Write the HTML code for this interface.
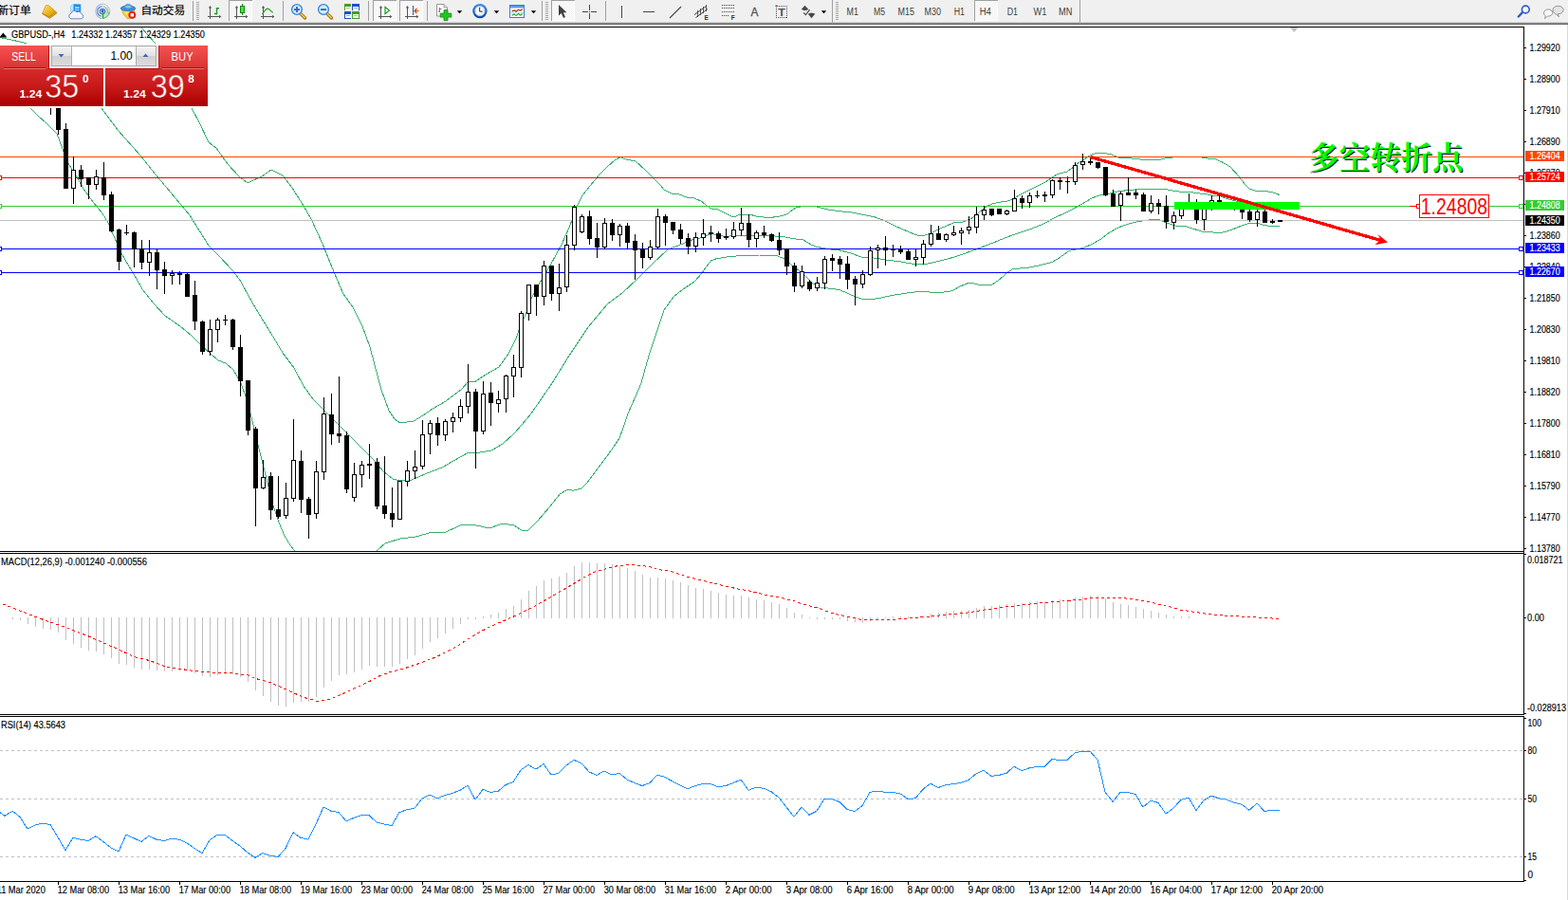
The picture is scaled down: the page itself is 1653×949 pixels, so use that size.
<!DOCTYPE html>
<html><head><meta charset="utf-8"><title>GBPUSD H4</title>
<style>html,body{margin:0;padding:0;background:#fff;overflow:hidden}svg{display:block}</style></head>
<body><svg width="1653" height="949" viewBox="0 0 1653 949" font-family="Liberation Sans, sans-serif">
<defs>
<linearGradient id="tb" x1="0" y1="0" x2="0" y2="1"><stop offset="0" stop-color="#e4e4e4"/><stop offset="0.45" stop-color="#a0a0a0"/><stop offset="1" stop-color="#6a6a6a"/></linearGradient>
<linearGradient id="btn" x1="0" y1="0" x2="0" y2="1"><stop offset="0" stop-color="#f55252"/><stop offset="1" stop-color="#d93333"/></linearGradient>
<linearGradient id="prc" x1="0" y1="0" x2="0" y2="1"><stop offset="0" stop-color="#d72c2c"/><stop offset="0.5" stop-color="#c61818"/><stop offset="1" stop-color="#aa0000"/></linearGradient>
<linearGradient id="prcu" gradientUnits="userSpaceOnUse" x1="0" y1="72" x2="0" y2="112"><stop offset="0" stop-color="#d72c2c"/><stop offset="0.5" stop-color="#c61818"/><stop offset="1" stop-color="#aa0000"/></linearGradient>
<linearGradient id="spn" x1="0" y1="0" x2="0" y2="1"><stop offset="0" stop-color="#f4f4f4"/><stop offset="0.5" stop-color="#e2e2e2"/><stop offset="0.5" stop-color="#d0d0d0"/><stop offset="1" stop-color="#dcdcdc"/></linearGradient>
<pattern id="chk" width="2" height="2" patternUnits="userSpaceOnUse"><rect width="2" height="2" fill="#ffffff"/><rect width="1" height="1" fill="#f0f0f0"/><rect x="1" y="1" width="1" height="1" fill="#f0f0f0"/></pattern>
</defs>
<rect width="1653" height="949" fill="#fff"/>
<clipPath id="mainclip"><rect x="0" y="29" width="1606" height="552"/></clipPath>
<g clip-path="url(#mainclip)" shape-rendering="crispEdges">
<polyline points="149.0,29.0 163.0,45.0 202.0,114.0 210.0,129.0 220.0,150.0 228.0,156.0 240.0,173.0 252.0,186.0 261.0,193.0 276.0,186.0 286.0,179.0 298.0,185.0 308.0,198.0 320.0,217.0 328.0,231.0 340.0,257.0 348.0,277.0 355.0,294.0 362.0,310.0 372.0,324.0 382.0,344.0 390.0,366.0 398.0,396.0 402.0,411.0 410.0,433.0 416.0,442.0 422.0,446.0 436.0,444.0 446.0,438.0 456.0,431.0 470.0,423.0 486.0,411.0 494.0,402.0 500.0,403.0 512.0,395.0 526.0,387.0 536.0,373.0 544.0,357.0 549.0,343.0 555.0,329.0 560.0,315.0 568.0,300.0 580.0,280.0 592.0,258.0 600.0,240.0 608.0,218.0 614.0,206.0 622.0,196.0 632.0,184.0 640.0,176.0 648.0,169.0 654.0,165.7 660.0,168.0 670.0,170.0 680.0,179.0 688.0,187.0 696.0,195.0 700.0,200.0 708.0,204.0 716.0,205.0 724.0,208.0 732.0,209.0 740.0,212.6 745.0,217.0 750.0,220.0 757.0,221.0 764.0,224.5 773.0,229.0 781.0,226.0 790.0,226.0 797.0,228.0 805.0,229.0 813.0,229.4 822.0,228.0 830.0,225.8 834.5,222.0 839.0,219.0 844.0,218.0 853.0,217.5 861.0,218.0 873.0,221.0 885.5,222.7 897.6,224.0 910.0,226.4 922.0,228.8 931.5,232.4 942.0,237.6 951.7,241.8 961.4,246.0 966.0,247.9 973.5,248.5 980.8,246.0 990.5,241.2 997.7,238.2 1005.0,235.0 1014.7,234.0 1022.0,231.5 1026.8,228.5 1031.7,224.2 1036.5,220.6 1041.4,217.0 1046.0,215.0 1053.5,213.3 1062.0,212.0 1066.8,210.3 1073.0,206.7 1080.0,203.0 1087.4,199.4 1094.7,195.8 1102.0,192.0 1109.0,187.3 1115.0,183.5 1124.7,181.0 1130.8,176.7 1136.8,171.8 1142.9,168.2 1149.0,164.0 1156.0,161.0 1161.0,161.0 1170.8,162.7 1180.5,166.4 1192.6,167.0 1202.0,168.0 1212.0,168.8 1221.7,168.4 1231.4,166.4 1241.0,165.5 1265.0,165.5 1272.6,167.0 1282.0,168.0 1289.5,171.5 1297.0,176.0 1305.8,185.8 1311.8,193.6 1316.7,199.0 1325.0,201.5 1336.0,201.8 1343.0,203.3 1349.0,205.6" fill="none" stroke="#38b06e" stroke-width="1" stroke-linejoin="round" />
<polyline points="-1.0,39.4 14.0,42.4 28.0,45.8 50.0,58.0 70.0,76.0 90.0,97.0 107.0,114.0 124.0,137.0 148.0,164.0 164.0,184.0 180.0,203.0 200.0,227.0 220.0,259.0 230.0,269.0 246.0,286.0 254.0,297.0 262.0,312.0 270.0,326.0 286.0,352.0 298.0,372.0 310.0,388.0 320.0,407.0 330.0,421.0 342.0,433.0 358.0,449.0 370.0,461.0 382.0,473.0 394.0,485.0 404.0,497.0 414.0,505.0 422.0,507.0 434.0,506.0 450.0,499.0 466.0,493.0 478.0,486.0 494.0,477.0 506.0,477.0 518.0,475.0 530.0,468.0 542.0,457.0 550.0,448.0 560.0,436.0 582.0,404.0 600.0,375.0 620.0,345.0 640.0,321.0 656.0,309.0 672.0,294.0 688.0,278.0 704.0,263.0 720.0,257.0 732.0,252.0 740.0,250.6 750.0,246.4 764.0,249.4 776.0,248.5 788.5,248.0 800.6,248.0 813.0,248.8 825.0,249.4 837.0,251.8 846.7,253.0 855.0,257.9 861.0,260.3 867.0,261.5 875.8,263.0 885.5,264.0 895.0,266.4 903.6,269.4 909.7,271.8 919.4,271.8 928.0,273.0 937.0,274.5 949.0,275.8 965.0,278.8 976.0,278.4 985.6,276.4 1002.6,272.0 1017.0,267.3 1031.7,261.8 1046.0,256.4 1058.0,251.5 1070.5,246.7 1086.0,241.8 1100.8,235.8 1111.7,229.7 1127.0,222.7 1139.0,216.0 1151.4,208.8 1158.6,206.0 1166.0,205.0 1175.6,202.4 1187.7,200.7 1199.8,199.7 1212.0,200.0 1219.0,199.0 1226.5,199.0 1236.0,201.0 1246.0,202.4 1255.6,202.7 1265.0,204.0 1272.6,205.0 1278.6,206.4 1287.0,207.0 1293.0,209.4 1301.7,211.8 1320.0,215.0 1349.0,219.0" fill="none" stroke="#38b06e" stroke-width="1" stroke-linejoin="round" />
<polyline points="32.0,114.0 40.0,122.0 49.0,130.0 60.0,141.0 66.0,157.0 73.0,174.0 80.0,185.0 88.0,199.0 98.0,213.0 108.0,225.0 114.0,235.0 120.0,249.0 128.0,267.0 136.0,281.0 144.0,294.0 150.0,305.0 162.0,320.0 174.0,333.0 190.0,344.0 202.0,354.0 212.0,364.0 222.0,373.0 230.0,380.0 238.0,383.0 246.0,390.0 254.0,404.0 259.0,418.0 264.0,436.0 272.0,469.0 280.0,501.0 288.0,533.0 294.0,551.0 300.0,565.0 306.0,575.0 310.0,580.0 320.0,600.0 390.0,600.0 398.0,580.0 406.0,573.0 422.0,568.0 438.0,566.0 456.0,561.0 470.0,561.0 486.0,553.6 502.0,554.0 516.0,557.0 530.0,552.0 542.0,554.0 550.0,559.2 557.0,559.2 566.0,550.2 578.0,536.2 590.0,521.2 598.0,516.2 604.0,517.2 613.0,515.2 618.0,510.1 630.0,494.1 642.0,478.1 653.0,462.1 658.0,448.1 662.0,436.1 670.0,418.0 676.0,404.0 684.0,375.0 692.0,351.0 700.0,327.0 710.0,313.0 720.0,305.0 732.0,297.0 740.0,288.0 743.6,282.7 749.7,274.8 754.5,273.0 764.0,271.2 776.0,270.0 788.5,269.4 800.6,269.0 813.0,269.0 820.0,270.0 827.0,273.0 832.0,277.3 837.0,281.5 842.0,285.0 846.7,288.8 851.5,293.6 856.4,298.5 861.0,301.5 866.0,303.3 873.0,304.0 880.6,305.0 885.5,305.8 892.7,308.8 897.6,311.2 903.6,313.6 909.7,315.5 919.4,315.7 929.0,314.0 940.0,311.5 956.0,309.0 972.0,307.0 988.0,309.0 1004.0,306.8 1012.0,302.0 1022.0,298.0 1036.0,301.0 1046.0,300.0 1054.0,294.5 1062.0,287.3 1068.0,283.6 1082.6,282.4 1094.7,280.0 1109.0,276.4 1116.5,272.0 1127.0,264.5 1141.7,261.5 1151.4,257.3 1161.0,251.8 1168.0,246.4 1178.0,240.3 1187.7,236.7 1199.8,233.6 1212.0,231.8 1221.7,231.5 1226.5,233.6 1231.4,235.5 1241.0,238.5 1250.8,239.0 1260.5,242.0 1267.7,244.3 1275.0,244.5 1284.7,245.8 1292.0,244.5 1299.0,242.0 1306.5,239.0 1316.7,235.5 1326.4,235.5 1332.4,237.3 1338.5,238.5 1349.0,238.5" fill="none" stroke="#38b06e" stroke-width="1" stroke-linejoin="round" />
</g>
<g shape-rendering="crispEdges">
<rect x="0" y="165" width="1606" height="1" fill="#ff4500"/>
<rect x="0" y="187" width="1606" height="1" fill="#ff0000"/>
<rect x="0" y="217" width="1606" height="1" fill="#32cd32"/>
<rect x="0" y="232" width="1606" height="1" fill="#c0c0c0"/>
<rect x="0" y="262" width="1606" height="1" fill="#0000ff"/>
<rect x="0" y="287" width="1606" height="1" fill="#0000ff"/>
<rect x="-2.5" y="185.5" width="4" height="4" fill="#fff" stroke="#ff0000" stroke-width="1"/>
<rect x="1601.5" y="185.5" width="4" height="4" fill="#fff" stroke="#ff0000" stroke-width="1"/>
<rect x="-2.5" y="215.5" width="4" height="4" fill="#fff" stroke="#32cd32" stroke-width="1"/>
<rect x="1601.5" y="215.5" width="4" height="4" fill="#fff" stroke="#32cd32" stroke-width="1"/>
<rect x="-2.5" y="260.5" width="4" height="4" fill="#fff" stroke="#0000ff" stroke-width="1"/>
<rect x="1601.5" y="260.5" width="4" height="4" fill="#fff" stroke="#0000ff" stroke-width="1"/>
<rect x="-2.5" y="285.5" width="4" height="4" fill="#fff" stroke="#0000ff" stroke-width="1"/>
<rect x="1601.5" y="285.5" width="4" height="4" fill="#fff" stroke="#0000ff" stroke-width="1"/>
<rect x="53" y="100" width="1" height="21" fill="#000"/>
<rect x="61" y="90" width="1" height="52" fill="#000"/>
<rect x="59" y="95" width="5" height="42" fill="#000"/>
<rect x="69" y="130" width="1" height="69" fill="#000"/>
<rect x="67" y="136" width="5" height="63" fill="#000"/>
<rect x="77" y="165" width="1" height="50" fill="#000"/>
<rect x="75.5" y="179.5" width="4" height="19" fill="#fff" stroke="#000" stroke-width="1"/>
<rect x="85" y="174" width="1" height="23" fill="#000"/>
<rect x="83" y="179" width="5" height="10" fill="#000"/>
<rect x="93" y="187" width="1" height="23" fill="#000"/>
<rect x="91" y="187" width="5" height="8" fill="#000"/>
<rect x="101" y="179" width="1" height="21" fill="#000"/>
<rect x="99.5" y="186.5" width="4" height="8" fill="#fff" stroke="#000" stroke-width="1"/>
<rect x="109" y="171" width="1" height="40" fill="#000"/>
<rect x="107" y="187" width="5" height="19" fill="#000"/>
<rect x="117" y="202" width="1" height="43" fill="#000"/>
<rect x="115" y="205" width="5" height="39" fill="#000"/>
<rect x="125" y="241" width="1" height="44" fill="#000"/>
<rect x="123" y="242" width="5" height="34" fill="#000"/>
<rect x="133" y="237" width="1" height="11" fill="#000"/>
<rect x="131" y="245" width="5" height="1" fill="#000"/>
<rect x="141" y="244" width="1" height="38" fill="#000"/>
<rect x="139" y="245" width="5" height="18" fill="#000"/>
<rect x="149" y="253" width="1" height="31" fill="#000"/>
<rect x="147" y="262" width="5" height="15" fill="#000"/>
<rect x="157" y="253" width="1" height="38" fill="#000"/>
<rect x="155.5" y="266.5" width="4" height="10" fill="#fff" stroke="#000" stroke-width="1"/>
<rect x="165" y="263" width="1" height="42" fill="#000"/>
<rect x="163" y="266" width="5" height="19" fill="#000"/>
<rect x="173" y="276" width="1" height="34" fill="#000"/>
<rect x="171" y="284" width="5" height="7" fill="#000"/>
<rect x="181" y="285" width="1" height="15" fill="#000"/>
<rect x="179.5" y="288.5" width="4" height="2" fill="#fff" stroke="#000" stroke-width="1"/>
<rect x="189" y="286" width="1" height="14" fill="#000"/>
<rect x="187" y="288" width="5" height="2" fill="#000"/>
<rect x="197" y="288" width="1" height="25" fill="#000"/>
<rect x="195" y="289" width="5" height="24" fill="#000"/>
<rect x="205" y="296" width="1" height="52" fill="#000"/>
<rect x="203" y="311" width="5" height="28" fill="#000"/>
<rect x="213" y="338" width="1" height="36" fill="#000"/>
<rect x="211" y="339" width="5" height="32" fill="#000"/>
<rect x="221" y="337" width="1" height="38" fill="#000"/>
<rect x="219.5" y="347.5" width="4" height="23" fill="#fff" stroke="#000" stroke-width="1"/>
<rect x="229" y="335" width="1" height="26" fill="#000"/>
<rect x="227.5" y="337.5" width="4" height="10" fill="#fff" stroke="#000" stroke-width="1"/>
<rect x="237" y="332" width="1" height="11" fill="#000"/>
<rect x="235" y="337" width="5" height="1" fill="#000"/>
<rect x="245" y="336" width="1" height="33" fill="#000"/>
<rect x="243" y="337" width="5" height="29" fill="#000"/>
<rect x="253" y="353" width="1" height="65" fill="#000"/>
<rect x="251" y="366" width="5" height="36" fill="#000"/>
<rect x="261" y="401" width="1" height="58" fill="#000"/>
<rect x="259" y="401" width="5" height="53" fill="#000"/>
<rect x="269" y="450" width="1" height="105" fill="#000"/>
<rect x="267" y="452" width="5" height="63" fill="#000"/>
<rect x="277" y="485" width="1" height="31" fill="#000"/>
<rect x="275.5" y="503.5" width="4" height="11" fill="#fff" stroke="#000" stroke-width="1"/>
<rect x="285" y="498" width="1" height="50" fill="#000"/>
<rect x="283" y="502" width="5" height="36" fill="#000"/>
<rect x="293" y="502" width="1" height="45" fill="#000"/>
<rect x="291" y="537" width="5" height="8" fill="#000"/>
<rect x="301" y="509" width="1" height="38" fill="#000"/>
<rect x="299.5" y="525.5" width="4" height="18" fill="#fff" stroke="#000" stroke-width="1"/>
<rect x="309" y="442" width="1" height="87" fill="#000"/>
<rect x="307.5" y="485.5" width="4" height="40" fill="#fff" stroke="#000" stroke-width="1"/>
<rect x="317" y="475" width="1" height="66" fill="#000"/>
<rect x="315" y="486" width="5" height="41" fill="#000"/>
<rect x="325" y="524" width="1" height="44" fill="#000"/>
<rect x="323" y="526" width="5" height="17" fill="#000"/>
<rect x="333" y="486" width="1" height="61" fill="#000"/>
<rect x="331.5" y="497.5" width="4" height="44" fill="#fff" stroke="#000" stroke-width="1"/>
<rect x="341" y="419" width="1" height="87" fill="#000"/>
<rect x="339.5" y="436.5" width="4" height="61" fill="#fff" stroke="#000" stroke-width="1"/>
<rect x="349" y="415" width="1" height="54" fill="#000"/>
<rect x="347" y="437" width="5" height="21" fill="#000"/>
<rect x="357" y="397" width="1" height="70" fill="#000"/>
<rect x="355" y="457" width="5" height="3" fill="#000"/>
<rect x="365" y="455" width="1" height="65" fill="#000"/>
<rect x="363" y="459" width="5" height="57" fill="#000"/>
<rect x="373" y="488" width="1" height="41" fill="#000"/>
<rect x="371.5" y="500.5" width="4" height="24" fill="#fff" stroke="#000" stroke-width="1"/>
<rect x="381" y="486" width="1" height="28" fill="#000"/>
<rect x="379.5" y="490.5" width="4" height="10" fill="#fff" stroke="#000" stroke-width="1"/>
<rect x="389" y="468" width="1" height="37" fill="#000"/>
<rect x="387" y="489" width="5" height="2" fill="#000"/>
<rect x="397" y="483" width="1" height="54" fill="#000"/>
<rect x="395" y="487" width="5" height="47" fill="#000"/>
<rect x="405" y="481" width="1" height="66" fill="#000"/>
<rect x="403" y="533" width="5" height="9" fill="#000"/>
<rect x="413" y="514" width="1" height="42" fill="#000"/>
<rect x="411" y="541" width="5" height="7" fill="#000"/>
<rect x="421" y="507" width="1" height="41" fill="#000"/>
<rect x="419.5" y="507.5" width="4" height="40" fill="#fff" stroke="#000" stroke-width="1"/>
<rect x="429" y="486" width="1" height="27" fill="#000"/>
<rect x="427.5" y="496.5" width="4" height="11" fill="#fff" stroke="#000" stroke-width="1"/>
<rect x="437" y="475" width="1" height="30" fill="#000"/>
<rect x="435.5" y="492.5" width="4" height="4" fill="#fff" stroke="#000" stroke-width="1"/>
<rect x="445" y="443" width="1" height="52" fill="#000"/>
<rect x="443.5" y="458.5" width="4" height="33" fill="#fff" stroke="#000" stroke-width="1"/>
<rect x="453" y="443" width="1" height="36" fill="#000"/>
<rect x="451.5" y="446.5" width="4" height="11" fill="#fff" stroke="#000" stroke-width="1"/>
<rect x="461" y="440" width="1" height="30" fill="#000"/>
<rect x="459" y="446" width="5" height="13" fill="#000"/>
<rect x="469" y="442" width="1" height="23" fill="#000"/>
<rect x="467.5" y="444.5" width="4" height="14" fill="#fff" stroke="#000" stroke-width="1"/>
<rect x="477" y="435" width="1" height="21" fill="#000"/>
<rect x="475.5" y="440.5" width="4" height="4" fill="#fff" stroke="#000" stroke-width="1"/>
<rect x="485" y="421" width="1" height="24" fill="#000"/>
<rect x="483.5" y="428.5" width="4" height="12" fill="#fff" stroke="#000" stroke-width="1"/>
<rect x="493" y="384" width="1" height="52" fill="#000"/>
<rect x="491.5" y="413.5" width="4" height="15" fill="#fff" stroke="#000" stroke-width="1"/>
<rect x="501" y="410" width="1" height="84" fill="#000"/>
<rect x="499" y="413" width="5" height="42" fill="#000"/>
<rect x="509" y="402" width="1" height="56" fill="#000"/>
<rect x="507.5" y="415.5" width="4" height="39" fill="#fff" stroke="#000" stroke-width="1"/>
<rect x="517" y="403" width="1" height="46" fill="#000"/>
<rect x="515" y="414" width="5" height="11" fill="#000"/>
<rect x="525" y="412" width="1" height="23" fill="#000"/>
<rect x="523.5" y="421.5" width="4" height="4" fill="#fff" stroke="#000" stroke-width="1"/>
<rect x="533" y="395" width="1" height="40" fill="#000"/>
<rect x="531.5" y="396.5" width="4" height="24" fill="#fff" stroke="#000" stroke-width="1"/>
<rect x="541" y="374" width="1" height="45" fill="#000"/>
<rect x="539.5" y="387.5" width="4" height="9" fill="#fff" stroke="#000" stroke-width="1"/>
<rect x="549" y="328" width="1" height="70" fill="#000"/>
<rect x="547.5" y="330.5" width="4" height="57" fill="#fff" stroke="#000" stroke-width="1"/>
<rect x="557" y="300" width="1" height="38" fill="#000"/>
<rect x="555.5" y="300.5" width="4" height="30" fill="#fff" stroke="#000" stroke-width="1"/>
<rect x="565" y="300" width="1" height="33" fill="#000"/>
<rect x="563" y="300" width="5" height="13" fill="#000"/>
<rect x="573" y="275" width="1" height="47" fill="#000"/>
<rect x="571.5" y="280.5" width="4" height="32" fill="#fff" stroke="#000" stroke-width="1"/>
<rect x="581" y="280" width="1" height="37" fill="#000"/>
<rect x="579" y="280" width="5" height="30" fill="#000"/>
<rect x="589" y="278" width="1" height="50" fill="#000"/>
<rect x="587.5" y="303.5" width="4" height="6" fill="#fff" stroke="#000" stroke-width="1"/>
<rect x="597" y="248" width="1" height="60" fill="#000"/>
<rect x="595.5" y="258.5" width="4" height="44" fill="#fff" stroke="#000" stroke-width="1"/>
<rect x="605" y="216" width="1" height="48" fill="#000"/>
<rect x="603.5" y="218.5" width="4" height="40" fill="#fff" stroke="#000" stroke-width="1"/>
<rect x="613" y="226" width="1" height="20" fill="#000"/>
<rect x="611.5" y="228.5" width="4" height="16" fill="#fff" stroke="#000" stroke-width="1"/>
<rect x="621" y="222" width="1" height="36" fill="#000"/>
<rect x="619" y="228" width="5" height="24" fill="#000"/>
<rect x="629" y="235" width="1" height="37" fill="#000"/>
<rect x="627" y="251" width="5" height="10" fill="#000"/>
<rect x="637" y="230" width="1" height="33" fill="#000"/>
<rect x="635.5" y="235.5" width="4" height="25" fill="#fff" stroke="#000" stroke-width="1"/>
<rect x="645" y="231" width="1" height="23" fill="#000"/>
<rect x="643" y="235" width="5" height="13" fill="#000"/>
<rect x="653" y="236" width="1" height="24" fill="#000"/>
<rect x="651.5" y="238.5" width="4" height="9" fill="#fff" stroke="#000" stroke-width="1"/>
<rect x="661" y="235" width="1" height="28" fill="#000"/>
<rect x="659" y="238" width="5" height="18" fill="#000"/>
<rect x="669" y="247" width="1" height="48" fill="#000"/>
<rect x="667" y="254" width="5" height="10" fill="#000"/>
<rect x="677" y="256" width="1" height="27" fill="#000"/>
<rect x="675" y="263" width="5" height="9" fill="#000"/>
<rect x="685" y="253" width="1" height="21" fill="#000"/>
<rect x="683.5" y="260.5" width="4" height="11" fill="#fff" stroke="#000" stroke-width="1"/>
<rect x="693" y="220" width="1" height="43" fill="#000"/>
<rect x="691.5" y="228.5" width="4" height="32" fill="#fff" stroke="#000" stroke-width="1"/>
<rect x="701" y="226" width="1" height="33" fill="#000"/>
<rect x="699" y="228" width="5" height="7" fill="#000"/>
<rect x="709" y="234" width="1" height="13" fill="#000"/>
<rect x="707" y="234" width="5" height="9" fill="#000"/>
<rect x="717" y="236" width="1" height="21" fill="#000"/>
<rect x="715" y="242" width="5" height="10" fill="#000"/>
<rect x="725" y="246" width="1" height="22" fill="#000"/>
<rect x="723" y="251" width="5" height="9" fill="#000"/>
<rect x="733" y="245" width="1" height="21" fill="#000"/>
<rect x="731.5" y="250.5" width="4" height="9" fill="#fff" stroke="#000" stroke-width="1"/>
<rect x="741" y="231" width="1" height="28" fill="#000"/>
<rect x="739.5" y="246.5" width="4" height="4" fill="#fff" stroke="#000" stroke-width="1"/>
<rect x="749" y="238" width="1" height="17" fill="#000"/>
<rect x="747" y="245" width="5" height="2" fill="#000"/>
<rect x="757" y="244" width="1" height="12" fill="#000"/>
<rect x="755" y="246" width="5" height="6" fill="#000"/>
<rect x="765" y="241" width="1" height="12" fill="#000"/>
<rect x="763" y="249" width="5" height="2" fill="#000"/>
<rect x="773" y="234" width="1" height="18" fill="#000"/>
<rect x="771.5" y="242.5" width="4" height="7" fill="#fff" stroke="#000" stroke-width="1"/>
<rect x="781" y="219" width="1" height="30" fill="#000"/>
<rect x="779.5" y="235.5" width="4" height="7" fill="#fff" stroke="#000" stroke-width="1"/>
<rect x="789" y="226" width="1" height="35" fill="#000"/>
<rect x="787" y="235" width="5" height="18" fill="#000"/>
<rect x="797" y="243" width="1" height="18" fill="#000"/>
<rect x="795.5" y="245.5" width="4" height="6" fill="#fff" stroke="#000" stroke-width="1"/>
<rect x="805" y="238" width="1" height="13" fill="#000"/>
<rect x="803" y="245" width="5" height="3" fill="#000"/>
<rect x="813" y="246" width="1" height="9" fill="#000"/>
<rect x="811" y="247" width="5" height="7" fill="#000"/>
<rect x="821" y="245" width="1" height="24" fill="#000"/>
<rect x="819" y="253" width="5" height="11" fill="#000"/>
<rect x="829" y="262" width="1" height="28" fill="#000"/>
<rect x="827" y="262" width="5" height="19" fill="#000"/>
<rect x="837" y="277" width="1" height="31" fill="#000"/>
<rect x="835" y="280" width="5" height="22" fill="#000"/>
<rect x="845" y="280" width="1" height="24" fill="#000"/>
<rect x="843.5" y="286.5" width="4" height="15" fill="#fff" stroke="#000" stroke-width="1"/>
<rect x="853" y="295" width="1" height="12" fill="#000"/>
<rect x="851" y="297" width="5" height="8" fill="#000"/>
<rect x="861" y="292" width="1" height="15" fill="#000"/>
<rect x="859.5" y="298.5" width="4" height="5" fill="#fff" stroke="#000" stroke-width="1"/>
<rect x="869" y="270" width="1" height="35" fill="#000"/>
<rect x="867.5" y="273.5" width="4" height="25" fill="#fff" stroke="#000" stroke-width="1"/>
<rect x="877" y="268" width="1" height="18" fill="#000"/>
<rect x="875" y="272" width="5" height="3" fill="#000"/>
<rect x="885" y="270" width="1" height="24" fill="#000"/>
<rect x="883" y="273" width="5" height="6" fill="#000"/>
<rect x="893" y="270" width="1" height="35" fill="#000"/>
<rect x="891" y="278" width="5" height="17" fill="#000"/>
<rect x="901" y="291" width="1" height="31" fill="#000"/>
<rect x="899" y="294" width="5" height="6" fill="#000"/>
<rect x="909" y="285" width="1" height="19" fill="#000"/>
<rect x="907.5" y="289.5" width="4" height="10" fill="#fff" stroke="#000" stroke-width="1"/>
<rect x="917" y="260" width="1" height="31" fill="#000"/>
<rect x="915.5" y="264.5" width="4" height="25" fill="#fff" stroke="#000" stroke-width="1"/>
<rect x="925" y="258" width="1" height="25" fill="#000"/>
<rect x="923.5" y="261.5" width="4" height="2" fill="#fff" stroke="#000" stroke-width="1"/>
<rect x="933" y="249" width="1" height="31" fill="#000"/>
<rect x="931" y="261" width="5" height="3" fill="#000"/>
<rect x="941" y="258" width="1" height="13" fill="#000"/>
<rect x="939" y="263" width="5" height="1" fill="#000"/>
<rect x="949" y="259" width="1" height="9" fill="#000"/>
<rect x="947" y="263" width="5" height="3" fill="#000"/>
<rect x="957" y="263" width="1" height="11" fill="#000"/>
<rect x="955" y="265" width="5" height="9" fill="#000"/>
<rect x="965" y="263" width="1" height="18" fill="#000"/>
<rect x="963.5" y="271.5" width="4" height="2" fill="#fff" stroke="#000" stroke-width="1"/>
<rect x="973" y="253" width="1" height="26" fill="#000"/>
<rect x="971.5" y="257.5" width="4" height="14" fill="#fff" stroke="#000" stroke-width="1"/>
<rect x="981" y="237" width="1" height="23" fill="#000"/>
<rect x="979.5" y="246.5" width="4" height="11" fill="#fff" stroke="#000" stroke-width="1"/>
<rect x="989" y="238" width="1" height="15" fill="#000"/>
<rect x="987" y="246" width="5" height="7" fill="#000"/>
<rect x="997" y="246" width="1" height="9" fill="#000"/>
<rect x="995.5" y="247.5" width="4" height="5" fill="#fff" stroke="#000" stroke-width="1"/>
<rect x="1005" y="238" width="1" height="11" fill="#000"/>
<rect x="1003.5" y="245.5" width="4" height="2" fill="#fff" stroke="#000" stroke-width="1"/>
<rect x="1013" y="240" width="1" height="18" fill="#000"/>
<rect x="1011.5" y="243.5" width="4" height="2" fill="#fff" stroke="#000" stroke-width="1"/>
<rect x="1021" y="228" width="1" height="19" fill="#000"/>
<rect x="1019.5" y="239.5" width="4" height="3" fill="#fff" stroke="#000" stroke-width="1"/>
<rect x="1029" y="218" width="1" height="28" fill="#000"/>
<rect x="1027.5" y="226.5" width="4" height="13" fill="#fff" stroke="#000" stroke-width="1"/>
<rect x="1037" y="217" width="1" height="15" fill="#000"/>
<rect x="1035.5" y="221.5" width="4" height="5" fill="#fff" stroke="#000" stroke-width="1"/>
<rect x="1045" y="220" width="1" height="8" fill="#000"/>
<rect x="1043" y="220" width="5" height="7" fill="#000"/>
<rect x="1053" y="220" width="1" height="6" fill="#000"/>
<rect x="1051" y="220" width="5" height="6" fill="#000"/>
<rect x="1061" y="221" width="1" height="6" fill="#000"/>
<rect x="1059.5" y="222.5" width="4" height="3" fill="#fff" stroke="#000" stroke-width="1"/>
<rect x="1069" y="200" width="1" height="23" fill="#000"/>
<rect x="1067.5" y="209.5" width="4" height="13" fill="#fff" stroke="#000" stroke-width="1"/>
<rect x="1077" y="206" width="1" height="14" fill="#000"/>
<rect x="1075" y="209" width="5" height="5" fill="#000"/>
<rect x="1085" y="203" width="1" height="16" fill="#000"/>
<rect x="1083.5" y="206.5" width="4" height="7" fill="#fff" stroke="#000" stroke-width="1"/>
<rect x="1093" y="201" width="1" height="8" fill="#000"/>
<rect x="1091" y="206" width="5" height="1" fill="#000"/>
<rect x="1101" y="202" width="1" height="11" fill="#000"/>
<rect x="1099" y="205" width="5" height="2" fill="#000"/>
<rect x="1109" y="189" width="1" height="20" fill="#000"/>
<rect x="1107.5" y="190.5" width="4" height="15" fill="#fff" stroke="#000" stroke-width="1"/>
<rect x="1117" y="187" width="1" height="13" fill="#000"/>
<rect x="1115" y="190" width="5" height="2" fill="#000"/>
<rect x="1125" y="186" width="1" height="18" fill="#000"/>
<rect x="1123" y="191" width="5" height="1" fill="#000"/>
<rect x="1133" y="171" width="1" height="24" fill="#000"/>
<rect x="1131.5" y="174.5" width="4" height="17" fill="#fff" stroke="#000" stroke-width="1"/>
<rect x="1141" y="162" width="1" height="17" fill="#000"/>
<rect x="1139.5" y="170.5" width="4" height="3" fill="#fff" stroke="#000" stroke-width="1"/>
<rect x="1149" y="166" width="1" height="8" fill="#000"/>
<rect x="1147" y="170" width="5" height="2" fill="#000"/>
<rect x="1157" y="171" width="1" height="7" fill="#000"/>
<rect x="1155" y="171" width="5" height="6" fill="#000"/>
<rect x="1165" y="176" width="1" height="31" fill="#000"/>
<rect x="1163" y="176" width="5" height="30" fill="#000"/>
<rect x="1173" y="200" width="1" height="18" fill="#000"/>
<rect x="1171" y="204" width="5" height="14" fill="#000"/>
<rect x="1181" y="202" width="1" height="31" fill="#000"/>
<rect x="1179.5" y="204.5" width="4" height="12" fill="#fff" stroke="#000" stroke-width="1"/>
<rect x="1189" y="187" width="1" height="19" fill="#000"/>
<rect x="1187" y="203" width="5" height="3" fill="#000"/>
<rect x="1197" y="200" width="1" height="10" fill="#000"/>
<rect x="1195" y="203" width="5" height="3" fill="#000"/>
<rect x="1205" y="203" width="1" height="20" fill="#000"/>
<rect x="1203" y="205" width="5" height="18" fill="#000"/>
<rect x="1213" y="206" width="1" height="19" fill="#000"/>
<rect x="1211.5" y="214.5" width="4" height="8" fill="#fff" stroke="#000" stroke-width="1"/>
<rect x="1221" y="210" width="1" height="16" fill="#000"/>
<rect x="1219" y="214" width="5" height="4" fill="#000"/>
<rect x="1229" y="206" width="1" height="35" fill="#000"/>
<rect x="1227" y="217" width="5" height="17" fill="#000"/>
<rect x="1237" y="223" width="1" height="19" fill="#000"/>
<rect x="1235.5" y="227.5" width="4" height="7" fill="#fff" stroke="#000" stroke-width="1"/>
<rect x="1245" y="214" width="1" height="17" fill="#000"/>
<rect x="1243.5" y="216.5" width="4" height="11" fill="#fff" stroke="#000" stroke-width="1"/>
<rect x="1253" y="204" width="1" height="15" fill="#000"/>
<rect x="1251" y="214" width="5" height="3" fill="#000"/>
<rect x="1261" y="210" width="1" height="26" fill="#000"/>
<rect x="1259" y="216" width="5" height="16" fill="#000"/>
<rect x="1269" y="215" width="1" height="28" fill="#000"/>
<rect x="1267.5" y="216.5" width="4" height="15" fill="#fff" stroke="#000" stroke-width="1"/>
<rect x="1277" y="206" width="1" height="16" fill="#000"/>
<rect x="1275.5" y="211.5" width="4" height="5" fill="#fff" stroke="#000" stroke-width="1"/>
<rect x="1285" y="206" width="1" height="12" fill="#000"/>
<rect x="1283" y="211" width="5" height="6" fill="#000"/>
<rect x="1293" y="214" width="1" height="6" fill="#000"/>
<rect x="1291" y="215" width="5" height="3" fill="#000"/>
<rect x="1301" y="214" width="1" height="8" fill="#000"/>
<rect x="1299" y="216" width="5" height="3" fill="#000"/>
<rect x="1309" y="214" width="1" height="17" fill="#000"/>
<rect x="1307" y="217" width="5" height="7" fill="#000"/>
<rect x="1317" y="215" width="1" height="19" fill="#000"/>
<rect x="1315" y="223" width="5" height="9" fill="#000"/>
<rect x="1325" y="215" width="1" height="24" fill="#000"/>
<rect x="1323.5" y="223.5" width="4" height="8" fill="#fff" stroke="#000" stroke-width="1"/>
<rect x="1333" y="215" width="1" height="20" fill="#000"/>
<rect x="1331" y="223" width="5" height="12" fill="#000"/>
<rect x="1341" y="231" width="1" height="5" fill="#000"/>
<rect x="1339" y="233" width="5" height="2" fill="#000"/>
<rect x="1349" y="232" width="1" height="2" fill="#000"/>
<rect x="1347" y="232" width="5" height="2" fill="#000"/>
</g>
<rect x="1238" y="213" width="132" height="8" fill="#00ff00" shape-rendering="crispEdges"/>
<line x1="1149.5" y1="165.5" x2="1456" y2="253.6" stroke="#ff0000" stroke-width="3.3" shape-rendering="crispEdges"/>
<polygon points="1463,255.5 1452.5,247 1455.5,252.6 1449.5,258.2" fill="#ff0000"/>
<text x="1380.2" y="179.1" font-size="32.7" font-weight="bold" fill="#101030" textLength="163.4" lengthAdjust="spacingAndGlyphs" style="font-family:'Liberation Serif','Noto Serif CJK SC',serif">多空转折点</text>
<text x="1379.2" y="178.1" font-size="32.7" font-weight="bold" fill="#00ff00" textLength="163.4" lengthAdjust="spacingAndGlyphs" style="font-family:'Liberation Serif','Noto Serif CJK SC',serif">多空转折点</text>
<g shape-rendering="crispEdges">
<rect x="1486" y="217" width="8" height="1" fill="#ff0000"/>
<rect x="1493.5" y="215.5" width="3" height="4" fill="#fff" stroke="#ff0000"/>
<rect x="1496.5" y="205.5" width="73" height="24" fill="#fff" stroke="#ff0000"/>
</g>
<text x="1497.8" y="225.9" font-size="23" fill="#ff0000" textLength="70.3" lengthAdjust="spacingAndGlyphs" >1.24808</text>
<polygon points="1360,29 1368.6,29 1364.3,34" fill="#c0c0c0"/>
<g shape-rendering="crispEdges">
<rect x="0" y="28" width="1607" height="1" fill="#000"/>
<rect x="1606" y="28" width="1" height="726" fill="#000"/>
<rect x="1606" y="755" width="1" height="175" fill="#000"/>
<rect x="0" y="581" width="1607" height="1" fill="#000"/>
<rect x="0" y="583" width="1607" height="1" fill="#000"/>
<rect x="0" y="753" width="1607" height="1" fill="#000"/>
<rect x="0" y="755" width="1607" height="1" fill="#000"/>
<rect x="0" y="929" width="1607" height="1" fill="#000"/>
<rect x="1652" y="26" width="1" height="923" fill="#d9d9d9"/>
<rect x="1607" y="50" width="2" height="1" fill="#000"/>
<rect x="1607" y="83" width="2" height="1" fill="#000"/>
<rect x="1607" y="116" width="2" height="1" fill="#000"/>
<rect x="1607" y="149" width="2" height="1" fill="#000"/>
<rect x="1607" y="182" width="2" height="1" fill="#000"/>
<rect x="1607" y="215" width="2" height="1" fill="#000"/>
<rect x="1607" y="248" width="2" height="1" fill="#000"/>
<rect x="1607" y="281" width="2" height="1" fill="#000"/>
<rect x="1607" y="314" width="2" height="1" fill="#000"/>
<rect x="1607" y="347" width="2" height="1" fill="#000"/>
<rect x="1607" y="380" width="2" height="1" fill="#000"/>
<rect x="1607" y="413" width="2" height="1" fill="#000"/>
<rect x="1607" y="446" width="2" height="1" fill="#000"/>
<rect x="1607" y="479" width="2" height="1" fill="#000"/>
<rect x="1607" y="512" width="2" height="1" fill="#000"/>
<rect x="1607" y="545" width="2" height="1" fill="#000"/>
<rect x="1607" y="578" width="2" height="1" fill="#000"/>
</g>
<text x="1612.6" y="54" font-size="10" fill="#000" stroke="#000" stroke-width="0.15" textLength="32" lengthAdjust="spacingAndGlyphs" >1.29920</text>
<text x="1612.6" y="87" font-size="10" fill="#000" stroke="#000" stroke-width="0.15" textLength="32" lengthAdjust="spacingAndGlyphs" >1.28900</text>
<text x="1612.6" y="120" font-size="10" fill="#000" stroke="#000" stroke-width="0.15" textLength="32" lengthAdjust="spacingAndGlyphs" >1.27910</text>
<text x="1612.6" y="153" font-size="10" fill="#000" stroke="#000" stroke-width="0.15" textLength="32" lengthAdjust="spacingAndGlyphs" >1.26890</text>
<text x="1612.6" y="186" font-size="10" fill="#000" stroke="#000" stroke-width="0.15" textLength="32" lengthAdjust="spacingAndGlyphs" >1.25870</text>
<text x="1612.6" y="219" font-size="10" fill="#000" stroke="#000" stroke-width="0.15" textLength="32" lengthAdjust="spacingAndGlyphs" >1.24880</text>
<text x="1612.6" y="252" font-size="10" fill="#000" stroke="#000" stroke-width="0.15" textLength="32" lengthAdjust="spacingAndGlyphs" >1.23860</text>
<text x="1612.6" y="285" font-size="10" fill="#000" stroke="#000" stroke-width="0.15" textLength="32" lengthAdjust="spacingAndGlyphs" >1.22840</text>
<text x="1612.6" y="318" font-size="10" fill="#000" stroke="#000" stroke-width="0.15" textLength="32" lengthAdjust="spacingAndGlyphs" >1.21850</text>
<text x="1612.6" y="351" font-size="10" fill="#000" stroke="#000" stroke-width="0.15" textLength="32" lengthAdjust="spacingAndGlyphs" >1.20830</text>
<text x="1612.6" y="384" font-size="10" fill="#000" stroke="#000" stroke-width="0.15" textLength="32" lengthAdjust="spacingAndGlyphs" >1.19810</text>
<text x="1612.6" y="417" font-size="10" fill="#000" stroke="#000" stroke-width="0.15" textLength="32" lengthAdjust="spacingAndGlyphs" >1.18820</text>
<text x="1612.6" y="450" font-size="10" fill="#000" stroke="#000" stroke-width="0.15" textLength="32" lengthAdjust="spacingAndGlyphs" >1.17800</text>
<text x="1612.6" y="483" font-size="10" fill="#000" stroke="#000" stroke-width="0.15" textLength="32" lengthAdjust="spacingAndGlyphs" >1.16810</text>
<text x="1612.6" y="516" font-size="10" fill="#000" stroke="#000" stroke-width="0.15" textLength="32" lengthAdjust="spacingAndGlyphs" >1.15790</text>
<text x="1612.6" y="549" font-size="10" fill="#000" stroke="#000" stroke-width="0.15" textLength="32" lengthAdjust="spacingAndGlyphs" >1.14770</text>
<text x="1612.6" y="582" font-size="10" fill="#000" stroke="#000" stroke-width="0.15" textLength="32" lengthAdjust="spacingAndGlyphs" >1.13780</text>
<g shape-rendering="crispEdges">
<rect x="1608" y="159" width="41" height="11" fill="#ff4500"/>
<rect x="1608" y="181" width="41" height="11" fill="#ff0000"/>
<rect x="1608" y="211" width="41" height="11" fill="#32cd32"/>
<rect x="1608" y="227" width="41" height="11" fill="#000000"/>
<rect x="1608" y="256" width="41" height="11" fill="#0000ff"/>
<rect x="1608" y="281" width="41" height="11" fill="#0000ff"/>
</g>
<text x="1612.6" y="168" font-size="10" fill="#fff" stroke="#fff" stroke-width="0.15" textLength="32" lengthAdjust="spacingAndGlyphs" >1.26404</text>
<text x="1612.6" y="190" font-size="10" fill="#fff" stroke="#fff" stroke-width="0.15" textLength="32" lengthAdjust="spacingAndGlyphs" >1.25724</text>
<text x="1612.6" y="220" font-size="10" fill="#fff" stroke="#fff" stroke-width="0.15" textLength="32" lengthAdjust="spacingAndGlyphs" >1.24808</text>
<text x="1612.6" y="236" font-size="10" fill="#fff" stroke="#fff" stroke-width="0.15" textLength="32" lengthAdjust="spacingAndGlyphs" >1.24350</text>
<text x="1612.6" y="265" font-size="10" fill="#fff" stroke="#fff" stroke-width="0.15" textLength="32" lengthAdjust="spacingAndGlyphs" >1.23433</text>
<text x="1612.6" y="290" font-size="10" fill="#fff" stroke="#fff" stroke-width="0.15" textLength="32" lengthAdjust="spacingAndGlyphs" >1.22670</text>
<polygon points="-0.7,39.6 7.4,39.6 3.35,34.6" fill="#000"/>
<text x="12" y="39.9" font-size="10" fill="#000" stroke="#000" stroke-width="0.15" textLength="56.3" lengthAdjust="spacingAndGlyphs" >GBPUSD-,H4</text>
<text x="75.3" y="39.9" font-size="10" fill="#000" stroke="#000" stroke-width="0.15" textLength="140.6" lengthAdjust="spacingAndGlyphs" >1.24332 1.24357 1.24329 1.24350</text>
<g shape-rendering="crispEdges">
<rect x="13" y="651" width="1" height="2" fill="#c0c0c0"/>
<rect x="21" y="651" width="1" height="3" fill="#c0c0c0"/>
<rect x="29" y="651" width="1" height="7" fill="#c0c0c0"/>
<rect x="37" y="651" width="1" height="10" fill="#c0c0c0"/>
<rect x="45" y="651" width="1" height="12" fill="#c0c0c0"/>
<rect x="53" y="651" width="1" height="13" fill="#c0c0c0"/>
<rect x="61" y="651" width="1" height="16" fill="#c0c0c0"/>
<rect x="69" y="651" width="1" height="24" fill="#c0c0c0"/>
<rect x="77" y="651" width="1" height="28" fill="#c0c0c0"/>
<rect x="85" y="651" width="1" height="32" fill="#c0c0c0"/>
<rect x="93" y="651" width="1" height="35" fill="#c0c0c0"/>
<rect x="101" y="651" width="1" height="36" fill="#c0c0c0"/>
<rect x="109" y="651" width="1" height="39" fill="#c0c0c0"/>
<rect x="117" y="651" width="1" height="43" fill="#c0c0c0"/>
<rect x="125" y="651" width="1" height="49" fill="#c0c0c0"/>
<rect x="133" y="651" width="1" height="50" fill="#c0c0c0"/>
<rect x="141" y="651" width="1" height="53" fill="#c0c0c0"/>
<rect x="149" y="651" width="1" height="55" fill="#c0c0c0"/>
<rect x="157" y="651" width="1" height="55" fill="#c0c0c0"/>
<rect x="165" y="651" width="1" height="56" fill="#c0c0c0"/>
<rect x="173" y="651" width="1" height="57" fill="#c0c0c0"/>
<rect x="181" y="651" width="1" height="57" fill="#c0c0c0"/>
<rect x="189" y="651" width="1" height="56" fill="#c0c0c0"/>
<rect x="197" y="651" width="1" height="56" fill="#c0c0c0"/>
<rect x="205" y="651" width="1" height="59" fill="#c0c0c0"/>
<rect x="213" y="651" width="1" height="62" fill="#c0c0c0"/>
<rect x="221" y="651" width="1" height="63" fill="#c0c0c0"/>
<rect x="229" y="651" width="1" height="61" fill="#c0c0c0"/>
<rect x="237" y="651" width="1" height="60" fill="#c0c0c0"/>
<rect x="245" y="651" width="1" height="60" fill="#c0c0c0"/>
<rect x="253" y="651" width="1" height="63" fill="#c0c0c0"/>
<rect x="261" y="651" width="1" height="68" fill="#c0c0c0"/>
<rect x="269" y="651" width="1" height="77" fill="#c0c0c0"/>
<rect x="277" y="651" width="1" height="83" fill="#c0c0c0"/>
<rect x="285" y="651" width="1" height="89" fill="#c0c0c0"/>
<rect x="293" y="651" width="1" height="93" fill="#c0c0c0"/>
<rect x="301" y="651" width="1" height="94" fill="#c0c0c0"/>
<rect x="309" y="651" width="1" height="90" fill="#c0c0c0"/>
<rect x="317" y="651" width="1" height="89" fill="#c0c0c0"/>
<rect x="325" y="651" width="1" height="89" fill="#c0c0c0"/>
<rect x="333" y="651" width="1" height="84" fill="#c0c0c0"/>
<rect x="341" y="651" width="1" height="74" fill="#c0c0c0"/>
<rect x="349" y="651" width="1" height="67" fill="#c0c0c0"/>
<rect x="357" y="651" width="1" height="61" fill="#c0c0c0"/>
<rect x="365" y="651" width="1" height="60" fill="#c0c0c0"/>
<rect x="373" y="651" width="1" height="58" fill="#c0c0c0"/>
<rect x="381" y="651" width="1" height="55" fill="#c0c0c0"/>
<rect x="389" y="651" width="1" height="51" fill="#c0c0c0"/>
<rect x="397" y="651" width="1" height="52" fill="#c0c0c0"/>
<rect x="405" y="651" width="1" height="52" fill="#c0c0c0"/>
<rect x="413" y="651" width="1" height="52" fill="#c0c0c0"/>
<rect x="421" y="651" width="1" height="49" fill="#c0c0c0"/>
<rect x="429" y="651" width="1" height="44" fill="#c0c0c0"/>
<rect x="437" y="651" width="1" height="40" fill="#c0c0c0"/>
<rect x="445" y="651" width="1" height="33" fill="#c0c0c0"/>
<rect x="453" y="651" width="1" height="26" fill="#c0c0c0"/>
<rect x="461" y="651" width="1" height="22" fill="#c0c0c0"/>
<rect x="469" y="651" width="1" height="17" fill="#c0c0c0"/>
<rect x="477" y="651" width="1" height="12" fill="#c0c0c0"/>
<rect x="485" y="651" width="1" height="7" fill="#c0c0c0"/>
<rect x="493" y="651" width="1" height="2" fill="#c0c0c0"/>
<rect x="501" y="651" width="1" height="2" fill="#c0c0c0"/>
<rect x="509" y="650" width="1" height="2" fill="#c0c0c0"/>
<rect x="517" y="648" width="1" height="4" fill="#c0c0c0"/>
<rect x="525" y="646" width="1" height="6" fill="#c0c0c0"/>
<rect x="533" y="642" width="1" height="10" fill="#c0c0c0"/>
<rect x="541" y="639" width="1" height="13" fill="#c0c0c0"/>
<rect x="549" y="632" width="1" height="20" fill="#c0c0c0"/>
<rect x="557" y="623" width="1" height="29" fill="#c0c0c0"/>
<rect x="565" y="618" width="1" height="34" fill="#c0c0c0"/>
<rect x="573" y="612" width="1" height="40" fill="#c0c0c0"/>
<rect x="581" y="610" width="1" height="42" fill="#c0c0c0"/>
<rect x="589" y="608" width="1" height="44" fill="#c0c0c0"/>
<rect x="597" y="604" width="1" height="48" fill="#c0c0c0"/>
<rect x="605" y="597" width="1" height="55" fill="#c0c0c0"/>
<rect x="613" y="593" width="1" height="59" fill="#c0c0c0"/>
<rect x="621" y="593" width="1" height="59" fill="#c0c0c0"/>
<rect x="629" y="594" width="1" height="58" fill="#c0c0c0"/>
<rect x="637" y="594" width="1" height="58" fill="#c0c0c0"/>
<rect x="645" y="595" width="1" height="57" fill="#c0c0c0"/>
<rect x="653" y="597" width="1" height="55" fill="#c0c0c0"/>
<rect x="661" y="599" width="1" height="53" fill="#c0c0c0"/>
<rect x="669" y="602" width="1" height="50" fill="#c0c0c0"/>
<rect x="677" y="606" width="1" height="46" fill="#c0c0c0"/>
<rect x="685" y="609" width="1" height="43" fill="#c0c0c0"/>
<rect x="693" y="609" width="1" height="43" fill="#c0c0c0"/>
<rect x="701" y="610" width="1" height="42" fill="#c0c0c0"/>
<rect x="709" y="612" width="1" height="40" fill="#c0c0c0"/>
<rect x="717" y="614" width="1" height="38" fill="#c0c0c0"/>
<rect x="725" y="617" width="1" height="35" fill="#c0c0c0"/>
<rect x="733" y="620" width="1" height="32" fill="#c0c0c0"/>
<rect x="741" y="621" width="1" height="31" fill="#c0c0c0"/>
<rect x="749" y="623" width="1" height="29" fill="#c0c0c0"/>
<rect x="757" y="625" width="1" height="27" fill="#c0c0c0"/>
<rect x="765" y="627" width="1" height="25" fill="#c0c0c0"/>
<rect x="773" y="628" width="1" height="24" fill="#c0c0c0"/>
<rect x="781" y="628" width="1" height="24" fill="#c0c0c0"/>
<rect x="789" y="630" width="1" height="22" fill="#c0c0c0"/>
<rect x="797" y="632" width="1" height="20" fill="#c0c0c0"/>
<rect x="805" y="633" width="1" height="19" fill="#c0c0c0"/>
<rect x="813" y="635" width="1" height="17" fill="#c0c0c0"/>
<rect x="821" y="637" width="1" height="15" fill="#c0c0c0"/>
<rect x="829" y="641" width="1" height="11" fill="#c0c0c0"/>
<rect x="837" y="646" width="1" height="6" fill="#c0c0c0"/>
<rect x="845" y="648" width="1" height="4" fill="#c0c0c0"/>
<rect x="853" y="651" width="1" height="1" fill="#c0c0c0"/>
<rect x="861" y="651" width="1" height="2" fill="#c0c0c0"/>
<rect x="869" y="651" width="1" height="2" fill="#c0c0c0"/>
<rect x="877" y="651" width="1" height="2" fill="#c0c0c0"/>
<rect x="885" y="651" width="1" height="2" fill="#c0c0c0"/>
<rect x="893" y="651" width="1" height="4" fill="#c0c0c0"/>
<rect x="901" y="651" width="1" height="5" fill="#c0c0c0"/>
<rect x="909" y="651" width="1" height="6" fill="#c0c0c0"/>
<rect x="917" y="651" width="1" height="4" fill="#c0c0c0"/>
<rect x="925" y="651" width="1" height="2" fill="#c0c0c0"/>
<rect x="933" y="651" width="1" height="1" fill="#c0c0c0"/>
<rect x="941" y="650" width="1" height="2" fill="#c0c0c0"/>
<rect x="949" y="650" width="1" height="2" fill="#c0c0c0"/>
<rect x="957" y="650" width="1" height="2" fill="#c0c0c0"/>
<rect x="965" y="650" width="1" height="2" fill="#c0c0c0"/>
<rect x="973" y="649" width="1" height="3" fill="#c0c0c0"/>
<rect x="981" y="647" width="1" height="5" fill="#c0c0c0"/>
<rect x="989" y="646" width="1" height="6" fill="#c0c0c0"/>
<rect x="997" y="645" width="1" height="7" fill="#c0c0c0"/>
<rect x="1005" y="644" width="1" height="8" fill="#c0c0c0"/>
<rect x="1013" y="644" width="1" height="8" fill="#c0c0c0"/>
<rect x="1021" y="643" width="1" height="9" fill="#c0c0c0"/>
<rect x="1029" y="641" width="1" height="11" fill="#c0c0c0"/>
<rect x="1037" y="639" width="1" height="13" fill="#c0c0c0"/>
<rect x="1045" y="639" width="1" height="13" fill="#c0c0c0"/>
<rect x="1053" y="638" width="1" height="14" fill="#c0c0c0"/>
<rect x="1061" y="637" width="1" height="15" fill="#c0c0c0"/>
<rect x="1069" y="636" width="1" height="16" fill="#c0c0c0"/>
<rect x="1077" y="636" width="1" height="16" fill="#c0c0c0"/>
<rect x="1085" y="635" width="1" height="17" fill="#c0c0c0"/>
<rect x="1093" y="634" width="1" height="18" fill="#c0c0c0"/>
<rect x="1101" y="634" width="1" height="18" fill="#c0c0c0"/>
<rect x="1109" y="633" width="1" height="19" fill="#c0c0c0"/>
<rect x="1117" y="632" width="1" height="20" fill="#c0c0c0"/>
<rect x="1125" y="632" width="1" height="20" fill="#c0c0c0"/>
<rect x="1133" y="630" width="1" height="22" fill="#c0c0c0"/>
<rect x="1141" y="629" width="1" height="23" fill="#c0c0c0"/>
<rect x="1149" y="628" width="1" height="24" fill="#c0c0c0"/>
<rect x="1157" y="628" width="1" height="24" fill="#c0c0c0"/>
<rect x="1165" y="631" width="1" height="21" fill="#c0c0c0"/>
<rect x="1173" y="635" width="1" height="17" fill="#c0c0c0"/>
<rect x="1181" y="637" width="1" height="15" fill="#c0c0c0"/>
<rect x="1189" y="638" width="1" height="14" fill="#c0c0c0"/>
<rect x="1197" y="640" width="1" height="12" fill="#c0c0c0"/>
<rect x="1205" y="642" width="1" height="10" fill="#c0c0c0"/>
<rect x="1213" y="644" width="1" height="8" fill="#c0c0c0"/>
<rect x="1221" y="646" width="1" height="6" fill="#c0c0c0"/>
<rect x="1229" y="648" width="1" height="4" fill="#c0c0c0"/>
<rect x="1237" y="650" width="1" height="2" fill="#c0c0c0"/>
<rect x="1245" y="650" width="1" height="2" fill="#c0c0c0"/>
<rect x="1253" y="650" width="1" height="2" fill="#c0c0c0"/>
</g>
<polyline points="3.0,637.0 21.4,644.0 40.0,651.5 69.5,661.5 93.5,671.0 117.5,681.5 141.6,692.7 157.6,696.5 173.6,702.7 197.6,706.5 213.7,708.7 245.7,710.0 261.7,712.0 269.7,715.5 285.7,720.0 301.7,727.0 317.8,734.5 321.0,735.6 334.0,739.2 347.0,737.6 360.0,732.2 376.0,724.8 389.0,718.8 400.0,712.8 411.0,708.8 424.0,705.5 442.0,699.5 460.0,692.7 478.0,683.7 490.0,676.0 502.0,668.7 514.0,662.0 526.0,656.7 538.0,651.7 550.0,646.0 562.0,640.0 580.0,630.0 598.0,619.6 616.0,608.6 628.0,602.6 640.0,599.4 652.0,596.4 664.0,595.4 684.0,597.4 694.0,600.6 708.0,602.6 724.0,608.0 742.0,612.4 760.0,617.0 778.0,621.0 792.0,623.4 808.0,627.5 826.0,631.0 838.0,634.0 844.0,636.5 862.0,641.0 880.0,647.5 898.0,651.0 908.0,653.5 940.0,653.5 963.0,651.5 980.0,650.0 1000.0,648.0 1020.0,646.0 1040.0,642.7 1060.0,640.0 1080.0,637.7 1100.0,635.5 1120.0,634.0 1140.0,632.0 1152.0,630.7 1182.0,630.5 1196.0,632.0 1212.0,634.5 1220.0,637.0 1236.0,640.5 1244.0,643.0 1264.0,646.0 1280.0,648.5 1350.0,652.5" fill="none" stroke="#ff0000" stroke-width="1" stroke-linejoin="round" stroke-dasharray="3 3" shape-rendering="crispEdges"/>
<text x="1" y="596" font-size="10" fill="#000" stroke="#000" stroke-width="0.15" textLength="154" lengthAdjust="spacingAndGlyphs" >MACD(12,26,9) -0.001240 -0.000556</text>
<g shape-rendering="crispEdges">
<rect x="1607" y="584" width="2" height="1" fill="#000"/>
<rect x="1607" y="651" width="2" height="1" fill="#000"/>
<rect x="1607" y="752" width="2" height="1" fill="#000"/>
</g>
<text x="1610" y="594" font-size="10" fill="#000" stroke="#000" stroke-width="0.15" textLength="37.5" lengthAdjust="spacingAndGlyphs" >0.018721</text>
<text x="1610" y="655" font-size="10" fill="#000" stroke="#000" stroke-width="0.15" textLength="18" lengthAdjust="spacingAndGlyphs" >0.00</text>
<text x="1610" y="749.5" font-size="10" fill="#000" stroke="#000" stroke-width="0.15" textLength="41" lengthAdjust="spacingAndGlyphs" >-0.028913</text>
<g shape-rendering="crispEdges">
<line x1="0" y1="791.5" x2="1606" y2="791.5" stroke="#c0c0c0" stroke-width="1" stroke-dasharray="3 3"/>
<line x1="0" y1="842.5" x2="1606" y2="842.5" stroke="#c0c0c0" stroke-width="1" stroke-dasharray="3 3"/>
<line x1="0" y1="903.5" x2="1606" y2="903.5" stroke="#c0c0c0" stroke-width="1" stroke-dasharray="3 3"/>
<rect x="1607" y="757" width="2" height="1" fill="#000"/>
<rect x="1607" y="791" width="2" height="1" fill="#000"/>
<rect x="1607" y="842" width="2" height="1" fill="#000"/>
<rect x="1607" y="903" width="2" height="1" fill="#000"/>
<rect x="1607" y="928" width="2" height="1" fill="#000"/>
</g>
<polyline points="0.0,856.6 5.0,860.3 13.0,855.2 21.0,861.3 29.0,874.2 37.0,870.1 45.0,868.0 53.0,869.5 61.0,882.8 69.0,896.5 77.0,883.2 85.0,885.2 93.0,886.5 101.0,881.8 109.0,887.5 117.0,894.0 125.0,898.1 133.0,880.1 141.0,883.8 149.0,887.5 157.0,881.4 165.0,885.2 173.0,886.5 181.0,884.2 189.0,885.2 197.0,888.9 205.0,894.6 213.0,899.6 221.0,885.9 229.0,880.3 237.0,880.3 245.0,886.5 253.0,892.0 261.0,899.1 269.0,904.3 277.0,899.6 285.0,902.2 293.0,903.6 301.0,894.6 309.0,877.7 317.0,883.4 325.0,885.2 333.0,869.1 341.0,851.1 349.0,855.2 357.0,856.6 365.0,866.0 373.0,862.3 381.0,859.7 389.0,859.7 397.0,867.0 405.0,869.1 413.0,870.5 421.0,856.6 429.0,853.8 437.0,852.3 445.0,841.9 453.0,838.2 461.0,841.9 469.0,838.4 477.0,836.4 485.0,833.3 493.0,828.2 501.0,843.3 509.0,832.3 517.0,835.4 525.0,834.3 533.0,827.6 541.0,824.5 549.0,811.8 557.0,806.5 565.0,811.2 573.0,805.5 581.0,817.0 589.0,815.3 597.0,807.1 605.0,801.4 613.0,804.7 621.0,813.9 629.0,817.4 637.0,812.9 645.0,817.0 653.0,815.3 661.0,822.1 669.0,825.5 677.0,828.6 685.0,825.5 693.0,817.0 701.0,819.4 709.0,823.9 717.0,828.2 725.0,831.7 733.0,828.6 741.0,826.6 749.0,826.6 757.0,829.6 765.0,828.6 773.0,825.5 781.0,822.1 789.0,833.3 797.0,830.2 805.0,831.3 813.0,834.7 821.0,840.9 829.0,851.1 837.0,861.3 845.0,851.1 853.0,859.3 861.0,855.2 869.0,842.5 877.0,842.5 885.0,845.6 893.0,853.5 901.0,855.6 909.0,849.7 917.0,835.4 925.0,834.1 933.0,835.4 941.0,835.4 949.0,836.8 957.0,842.3 965.0,841.9 973.0,832.3 981.0,826.2 989.0,830.6 997.0,827.6 1005.0,826.6 1013.0,825.5 1021.0,822.5 1029.0,815.9 1037.0,812.2 1045.0,818.4 1053.0,817.4 1061.0,815.3 1069.0,808.2 1077.0,812.7 1085.0,809.8 1093.0,808.6 1101.0,808.6 1109.0,800.4 1117.0,801.6 1125.0,801.6 1133.0,793.8 1141.0,792.2 1149.0,792.2 1157.0,801.0 1165.0,835.1 1173.0,845.4 1181.0,835.4 1189.0,835.4 1197.0,837.4 1205.0,851.1 1213.0,844.3 1221.0,846.4 1229.0,858.2 1237.0,852.1 1245.0,843.3 1253.0,841.3 1261.0,854.6 1269.0,843.9 1277.0,839.2 1285.0,841.8 1293.0,843.0 1301.0,846.4 1309.0,848.2 1317.0,854.3 1325.0,847.1 1333.0,855.4 1341.0,854.3 1349.0,854.3" fill="none" stroke="#1e90ff" stroke-width="1" stroke-linejoin="round" shape-rendering="crispEdges"/>
<text x="1" y="768" font-size="10" fill="#000" stroke="#000" stroke-width="0.15" textLength="68" lengthAdjust="spacingAndGlyphs" >RSI(14) 43.5643</text>
<text x="1610.5" y="765.6" font-size="10" fill="#000" stroke="#000" stroke-width="0.15" textLength="14.5" lengthAdjust="spacingAndGlyphs" >100</text>
<text x="1610.5" y="795" font-size="10" fill="#000" stroke="#000" stroke-width="0.15" textLength="9.5" lengthAdjust="spacingAndGlyphs" >80</text>
<text x="1610.5" y="846" font-size="10" fill="#000" stroke="#000" stroke-width="0.15" textLength="9.5" lengthAdjust="spacingAndGlyphs" >50</text>
<text x="1610.5" y="907" font-size="10" fill="#000" stroke="#000" stroke-width="0.15" textLength="9.5" lengthAdjust="spacingAndGlyphs" >15</text>
<text x="1610.5" y="926" font-size="10" fill="#000" stroke="#000" stroke-width="0.15" >0</text>
<g shape-rendering="crispEdges">
<rect x="-3" y="930" width="1" height="3" fill="#000"/>
<rect x="61" y="930" width="1" height="3" fill="#000"/>
<rect x="125" y="930" width="1" height="3" fill="#000"/>
<rect x="189" y="930" width="1" height="3" fill="#000"/>
<rect x="253" y="930" width="1" height="3" fill="#000"/>
<rect x="317" y="930" width="1" height="3" fill="#000"/>
<rect x="381" y="930" width="1" height="3" fill="#000"/>
<rect x="445" y="930" width="1" height="3" fill="#000"/>
<rect x="509" y="930" width="1" height="3" fill="#000"/>
<rect x="573" y="930" width="1" height="3" fill="#000"/>
<rect x="637" y="930" width="1" height="3" fill="#000"/>
<rect x="701" y="930" width="1" height="3" fill="#000"/>
<rect x="765" y="930" width="1" height="3" fill="#000"/>
<rect x="829" y="930" width="1" height="3" fill="#000"/>
<rect x="893" y="930" width="1" height="3" fill="#000"/>
<rect x="957" y="930" width="1" height="3" fill="#000"/>
<rect x="1021" y="930" width="1" height="3" fill="#000"/>
<rect x="1085" y="930" width="1" height="3" fill="#000"/>
<rect x="1149" y="930" width="1" height="3" fill="#000"/>
<rect x="1213" y="930" width="1" height="3" fill="#000"/>
<rect x="1277" y="930" width="1" height="3" fill="#000"/>
<rect x="1341" y="930" width="1" height="3" fill="#000"/>
</g>
<text x="-3.3" y="942.2" font-size="10" fill="#000" stroke="#000" stroke-width="0.15" textLength="51.2" lengthAdjust="spacingAndGlyphs" >11 Mar 2020</text>
<text x="60.7" y="942.2" font-size="10" fill="#000" stroke="#000" stroke-width="0.15" textLength="54.4" lengthAdjust="spacingAndGlyphs" >12 Mar 08:00</text>
<text x="124.7" y="942.2" font-size="10" fill="#000" stroke="#000" stroke-width="0.15" textLength="54.4" lengthAdjust="spacingAndGlyphs" >13 Mar 16:00</text>
<text x="188.7" y="942.2" font-size="10" fill="#000" stroke="#000" stroke-width="0.15" textLength="54.4" lengthAdjust="spacingAndGlyphs" >17 Mar 00:00</text>
<text x="252.7" y="942.2" font-size="10" fill="#000" stroke="#000" stroke-width="0.15" textLength="54.4" lengthAdjust="spacingAndGlyphs" >18 Mar 08:00</text>
<text x="316.7" y="942.2" font-size="10" fill="#000" stroke="#000" stroke-width="0.15" textLength="54.4" lengthAdjust="spacingAndGlyphs" >19 Mar 16:00</text>
<text x="380.7" y="942.2" font-size="10" fill="#000" stroke="#000" stroke-width="0.15" textLength="54.4" lengthAdjust="spacingAndGlyphs" >23 Mar 00:00</text>
<text x="444.7" y="942.2" font-size="10" fill="#000" stroke="#000" stroke-width="0.15" textLength="54.4" lengthAdjust="spacingAndGlyphs" >24 Mar 08:00</text>
<text x="508.7" y="942.2" font-size="10" fill="#000" stroke="#000" stroke-width="0.15" textLength="54.4" lengthAdjust="spacingAndGlyphs" >25 Mar 16:00</text>
<text x="572.7" y="942.2" font-size="10" fill="#000" stroke="#000" stroke-width="0.15" textLength="54.4" lengthAdjust="spacingAndGlyphs" >27 Mar 00:00</text>
<text x="636.7" y="942.2" font-size="10" fill="#000" stroke="#000" stroke-width="0.15" textLength="54.4" lengthAdjust="spacingAndGlyphs" >30 Mar 08:00</text>
<text x="700.7" y="942.2" font-size="10" fill="#000" stroke="#000" stroke-width="0.15" textLength="54.4" lengthAdjust="spacingAndGlyphs" >31 Mar 16:00</text>
<text x="764.7" y="942.2" font-size="10" fill="#000" stroke="#000" stroke-width="0.15" textLength="49" lengthAdjust="spacingAndGlyphs" >2 Apr 00:00</text>
<text x="828.7" y="942.2" font-size="10" fill="#000" stroke="#000" stroke-width="0.15" textLength="49" lengthAdjust="spacingAndGlyphs" >3 Apr 08:00</text>
<text x="892.7" y="942.2" font-size="10" fill="#000" stroke="#000" stroke-width="0.15" textLength="49" lengthAdjust="spacingAndGlyphs" >6 Apr 16:00</text>
<text x="956.7" y="942.2" font-size="10" fill="#000" stroke="#000" stroke-width="0.15" textLength="49" lengthAdjust="spacingAndGlyphs" >8 Apr 00:00</text>
<text x="1020.7" y="942.2" font-size="10" fill="#000" stroke="#000" stroke-width="0.15" textLength="49" lengthAdjust="spacingAndGlyphs" >9 Apr 08:00</text>
<text x="1084.7" y="942.2" font-size="10" fill="#000" stroke="#000" stroke-width="0.15" textLength="54.4" lengthAdjust="spacingAndGlyphs" >13 Apr 12:00</text>
<text x="1148.7" y="942.2" font-size="10" fill="#000" stroke="#000" stroke-width="0.15" textLength="54.4" lengthAdjust="spacingAndGlyphs" >14 Apr 20:00</text>
<text x="1212.7" y="942.2" font-size="10" fill="#000" stroke="#000" stroke-width="0.15" textLength="54.4" lengthAdjust="spacingAndGlyphs" >16 Apr 04:00</text>
<text x="1276.7" y="942.2" font-size="10" fill="#000" stroke="#000" stroke-width="0.15" textLength="54.4" lengthAdjust="spacingAndGlyphs" >17 Apr 12:00</text>
<text x="1340.7" y="942.2" font-size="10" fill="#000" stroke="#000" stroke-width="0.15" textLength="54.4" lengthAdjust="spacingAndGlyphs" >20 Apr 20:00</text>
<g shape-rendering="crispEdges">
<rect x="0" y="46" width="221" height="68" fill="#fff"/>
<rect x="0" y="48" width="52" height="24" fill="url(#btn)"/>
<rect x="167" y="48" width="52" height="24" fill="url(#btn)"/>
<rect x="0" y="72" width="109" height="40" fill="url(#prc)"/>
<rect x="111" y="72" width="108" height="40" fill="url(#prc)"/>
<rect x="51" y="48" width="1" height="25" fill="#c21212"/>
<rect x="167" y="48" width="1" height="25" fill="#c21212"/>
<rect x="52" y="72" width="57" height="1" fill="#b50a0a"/>
<rect x="111" y="72" width="56" height="1" fill="#b50a0a"/>
<rect x="4" y="71" width="44" height="1" fill="#b01212"/>
<rect x="171" y="71" width="44" height="1" fill="#b01212"/>
<rect x="4" y="72" width="44" height="1" fill="#ec7070"/>
<rect x="171" y="72" width="44" height="1" fill="#ec7070"/>
<rect x="52" y="48" width="115" height="24" fill="#fff"/>
<rect x="54.5" y="48.5" width="110" height="21" fill="#fff" stroke="#a8a8a8"/>
<rect x="55" y="49" width="20" height="20" fill="url(#spn)"/>
<rect x="144" y="49" width="20" height="20" fill="url(#spn)"/>
<rect x="75" y="49" width="1" height="20" fill="#b0b0b0"/>
<rect x="143" y="49" width="1" height="20" fill="#b0b0b0"/>
</g>
<polygon points="61.5,57 67.5,57 64.5,60.5" fill="#4a5fc0"/>
<polygon points="150.5,60 156.5,60 153.5,56.5" fill="#4a5fc0"/>
<text x="12.2" y="64" font-size="12" fill="#fff" textLength="25.6" lengthAdjust="spacingAndGlyphs" >SELL</text>
<text x="180.6" y="64" font-size="12" fill="#fff" textLength="23.2" lengthAdjust="spacingAndGlyphs" >BUY</text>
<text x="116.4" y="63.2" font-size="12.8" fill="#000" textLength="23.4" lengthAdjust="spacingAndGlyphs" >1.00</text>
<text x="20.6" y="102.6" font-size="11.5" fill="#fff" textLength="23.6" lengthAdjust="spacingAndGlyphs" font-weight="bold" >1.24</text>
<text x="47.3" y="103" font-size="35.2" fill="#fff" textLength="36" lengthAdjust="spacingAndGlyphs" stroke="url(#prcu)" stroke-width="0.55">35</text>
<text x="87" y="87" font-size="11" fill="#fff" textLength="6.5" lengthAdjust="spacingAndGlyphs" font-weight="bold" >0</text>
<text x="130" y="102.6" font-size="11.5" fill="#fff" textLength="23.7" lengthAdjust="spacingAndGlyphs" font-weight="bold" >1.24</text>
<text x="158.8" y="103" font-size="35.2" fill="#fff" textLength="36" lengthAdjust="spacingAndGlyphs" stroke="url(#prcu)" stroke-width="0.55">39</text>
<text x="198.3" y="87" font-size="11" fill="#fff" textLength="6.5" lengthAdjust="spacingAndGlyphs" font-weight="bold" >8</text>
<rect x="0" y="0" width="1653" height="23" fill="#f0f0f0"/>
<g shape-rendering="crispEdges"><rect x="0" y="23" width="1653" height="1" fill="#d4d4d4"/><rect x="0" y="24" width="1653" height="1" fill="#8e8e8e"/><rect x="0" y="25" width="1653" height="1" fill="#646464"/></g>
<text x="-2.7" y="14.9" font-size="11.9" fill="#000" stroke="#000" stroke-width="0.2" textLength="35.4" lengthAdjust="spacingAndGlyphs" style="font-family:'Liberation Sans','Noto Sans CJK SC',sans-serif">新订单</text>
<text x="148.4" y="14.9" font-size="11.9" fill="#000" stroke="#000" stroke-width="0.2" textLength="46.8" lengthAdjust="spacingAndGlyphs" style="font-family:'Liberation Sans','Noto Sans CJK SC',sans-serif">自动交易</text>
<defs><linearGradient id="gtag" x1="0" y1="0" x2="1" y2="1"><stop offset="0" stop-color="#fbe27a"/><stop offset="0.5" stop-color="#eeb91e"/><stop offset="1" stop-color="#c98a0c"/></linearGradient></defs>
<g><polygon points="48.3,5.2 51,5.2 60,13 59.6,14.6 52.3,19.8 44.1,14.4" fill="#a8700e"/><polygon points="48.6,5.6 50.9,5.6 59.2,12.8 51.6,17.6 44.8,13.6" fill="url(#gtag)"/><polygon points="44.6,14 51.6,17.9 59.3,13 59.4,14.3 52.2,19.2 44.4,14.6" fill="#d9a324"/></g>
<g><polygon points="74.3,6.2 77.5,4.3 85.2,4.6 85.2,13 77.5,13.6 74.3,12" fill="#1e8fea"/><polygon points="74.3,6.2 77.5,4.3 77.5,13.6 74.3,12" fill="#bfe4ff"/><rect x="79" y="7.4" width="4.6" height="1.3" fill="#d8f0ff"/><rect x="79" y="9.8" width="4.6" height="1" fill="#bfe0ff"/><path d="M75.2,19.8 a2.9,2.9 0 0 1 -0.2,-5.7 a3.4,3.4 0 0 1 6.2,-1.2 a2.9,2.9 0 0 1 4.7,1.8 a2.6,2.6 0 0 1 -0.5,5.1 z" fill="#f2f6fc" stroke="#5f7fb8" stroke-width="0.9"/></g>
<g fill="none"><path d="M113.5,6.5 a8,8 0 0 1 -4.5,13.2 L108.4,12 Z" fill="#cfe3cf" stroke="none"/><path d="M108,4.2 a7.8,7.8 0 0 0 -1,15.4" stroke="#9fb6e0" stroke-width="1.1"/><path d="M108,4.2 a7.8,7.8 0 0 1 6.8,11.6" stroke="#b9c9c9" stroke-width="1"/><path d="M107.6,6.8 a5.2,5.2 0 0 0 -1,10.2" stroke="#5f86d4" stroke-width="1.3"/><path d="M108.4,6.8 a5.2,5.2 0 0 1 4.4,7.6" stroke="#9fbfaf" stroke-width="1.1"/><circle cx="108" cy="12" r="2.7" stroke="#4a78cc" stroke-width="1.2"/><circle cx="108" cy="11.7" r="1.4" fill="#2050c8"/><path d="M108.5,12.5 L108.5,19.8" stroke="#1fb02a" stroke-width="1.5"/><path d="M108.8,19.3 a7.6,7.6 0 0 0 6.4,-7" stroke="#6cc070" stroke-width="1.3"/></g>
<g><path d="M128.6,10.5 L142,10.5 L141,16 L136.5,19.8 L134,19.6 L130,15 Z" fill="#f4d03c" stroke="#c39a1c" stroke-width="0.6"/><path d="M129.5,11 L137,11 L133.5,15.5 Z" fill="#fbe98c"/><ellipse cx="135" cy="8.8" rx="7.8" ry="2.9" fill="#3f8fd0"/><path d="M130.8,8 a4.3,4.2 0 0 1 8.6,0 z" fill="#66aee6"/><ellipse cx="135" cy="8.9" rx="7.8" ry="2.8" fill="none" stroke="#2f74b8" stroke-width="0.8"/><ellipse cx="135.2" cy="7.2" rx="3" ry="1.3" fill="#8ec6f0"/><circle cx="139.3" cy="15.8" r="3.9" fill="#e01c0c"/><rect x="137.6" y="14.1" width="3.4" height="3.4" fill="#fff"/></g>
<rect x="203" y="1" width="1" height="21" fill="#a0a0a0" shape-rendering="crispEdges"/>
<rect x="207" y="2" width="3" height="1" fill="#a6a6a6" shape-rendering="crispEdges"/>
<rect x="207" y="4" width="3" height="1" fill="#a6a6a6" shape-rendering="crispEdges"/>
<rect x="207" y="6" width="3" height="1" fill="#a6a6a6" shape-rendering="crispEdges"/>
<rect x="207" y="8" width="3" height="1" fill="#a6a6a6" shape-rendering="crispEdges"/>
<rect x="207" y="10" width="3" height="1" fill="#a6a6a6" shape-rendering="crispEdges"/>
<rect x="207" y="12" width="3" height="1" fill="#a6a6a6" shape-rendering="crispEdges"/>
<rect x="207" y="14" width="3" height="1" fill="#a6a6a6" shape-rendering="crispEdges"/>
<rect x="207" y="16" width="3" height="1" fill="#a6a6a6" shape-rendering="crispEdges"/>
<rect x="207" y="18" width="3" height="1" fill="#a6a6a6" shape-rendering="crispEdges"/>
<rect x="207" y="20" width="3" height="1" fill="#a6a6a6" shape-rendering="crispEdges"/>
<g fill="#555" shape-rendering="crispEdges"><rect x="221" y="7" width="1" height="13"/><rect x="219" y="17" width="13" height="1"/></g>
<polygon points="219.8,8.4 221.5,6 223.2,8.4" fill="#555"/>
<polygon points="231,15.7 233.4,17.5 231,19.3" fill="#555"/>
<g stroke="#1f9a2a" stroke-width="1.4" fill="none"><path d="M228.5,8 L228.5,15.5 M228.5,8.7 L231,8.7 M226,14.5 L228.5,14.5"/></g>
<g shape-rendering="crispEdges"><rect x="241" y="0" width="25" height="22" fill="url(#chk)"/><rect x="241" y="0" width="25" height="1" fill="#a0a0a0"/><rect x="241" y="0" width="1" height="22" fill="#a0a0a0"/><rect x="265" y="1" width="1" height="21" fill="#fff"/><rect x="242" y="21" width="24" height="1" fill="#fff"/></g>
<g fill="#555" shape-rendering="crispEdges"><rect x="249" y="7" width="1" height="13"/><rect x="247" y="17" width="13" height="1"/></g>
<polygon points="247.8,8.4 249.5,6 251.2,8.4" fill="#555"/>
<polygon points="259,15.7 261.4,17.5 259,19.3" fill="#555"/>
<g shape-rendering="crispEdges"><rect x="255" y="4" width="1" height="12" fill="#0a8a0a"/><rect x="253.5" y="6.5" width="4" height="7" fill="#4fdc4f" stroke="#0a8a0a" stroke-width="1"/></g>
<g fill="#555" shape-rendering="crispEdges"><rect x="277" y="7" width="1" height="13"/><rect x="275" y="17" width="13" height="1"/></g>
<polygon points="275.8,8.4 277.5,6 279.2,8.4" fill="#555"/>
<polygon points="287,15.7 289.4,17.5 287,19.3" fill="#555"/>
<path d="M276.3,14.7 C278.5,12.5 280,9 282.2,9.1 C284.5,9.2 285.5,12.5 287.8,13.3" stroke="#2e9e2e" stroke-width="1.2" fill="none"/>
<rect x="298" y="1" width="1" height="21" fill="#a0a0a0" shape-rendering="crispEdges"/>
<g><line x1="317" y1="14.5" x2="321.5" y2="19" stroke="#9a7418" stroke-width="3.4" stroke-linecap="round"/><line x1="317" y1="14.3" x2="321.3" y2="18.6" stroke="#e8c040" stroke-width="1.8" stroke-linecap="round"/><circle cx="313" cy="10" r="5.4" fill="#d4eaff" stroke="#3a86d8" stroke-width="1.4"/><rect x="310" y="9.2" width="6" height="1.8" fill="#2a66c0"/><rect x="312.1" y="7" width="1.8" height="6" fill="#2a66c0"/></g>
<g><line x1="345" y1="14.5" x2="349.5" y2="19" stroke="#9a7418" stroke-width="3.4" stroke-linecap="round"/><line x1="345" y1="14.3" x2="349.3" y2="18.6" stroke="#e8c040" stroke-width="1.8" stroke-linecap="round"/><circle cx="341" cy="10" r="5.4" fill="#d4eaff" stroke="#3a86d8" stroke-width="1.4"/><rect x="338" y="9.2" width="6" height="1.8" fill="#2a66c0"/></g>
<g shape-rendering="crispEdges"><rect x="363" y="4" width="8" height="8" fill="#4e9a1e"/><rect x="371" y="4" width="8" height="8" fill="#1f4fc4"/><rect x="363" y="12" width="8" height="8" fill="#1f4fc4"/><rect x="371" y="12" width="8" height="8" fill="#4e9a1e"/><rect x="364" y="7" width="6" height="4" fill="#fff"/><rect x="372" y="7" width="6" height="4" fill="#fff"/><rect x="364" y="15" width="6" height="4" fill="#fff"/><rect x="372" y="15" width="6" height="4" fill="#fff"/><rect x="365" y="8" width="4" height="1" fill="#9cc880"/><rect x="373" y="8" width="4" height="1" fill="#8aa8e8"/><rect x="365" y="16" width="4" height="1" fill="#8aa8e8"/><rect x="373" y="16" width="4" height="1" fill="#9cc880"/><rect x="370" y="4" width="1" height="16" fill="#f0f0f0"/><rect x="363" y="11" width="16" height="1" fill="#f0f0f0"/></g>
<rect x="388" y="1" width="1" height="21" fill="#a0a0a0" shape-rendering="crispEdges"/>
<g shape-rendering="crispEdges"><rect x="393" y="0" width="25" height="22" fill="url(#chk)"/><rect x="393" y="0" width="25" height="1" fill="#a0a0a0"/><rect x="393" y="0" width="1" height="22" fill="#a0a0a0"/><rect x="417" y="1" width="1" height="21" fill="#fff"/><rect x="394" y="21" width="24" height="1" fill="#fff"/></g>
<g fill="#555" shape-rendering="crispEdges"><rect x="401" y="7" width="1" height="13"/><rect x="399" y="17" width="13" height="1"/></g>
<polygon points="399.8,8.4 401.5,6 403.2,8.4" fill="#555"/>
<polygon points="411,15.7 413.4,17.5 411,19.3" fill="#555"/>
<polygon points="406,7.5 410.5,11 406,14.5" fill="#fff" stroke="#1f9a2a" stroke-width="1.2"/>
<g shape-rendering="crispEdges"><rect x="421" y="0" width="25" height="22" fill="url(#chk)"/><rect x="421" y="0" width="25" height="1" fill="#a0a0a0"/><rect x="421" y="0" width="1" height="22" fill="#a0a0a0"/><rect x="445" y="1" width="1" height="21" fill="#fff"/><rect x="422" y="21" width="24" height="1" fill="#fff"/></g>
<g fill="#555" shape-rendering="crispEdges"><rect x="429" y="7" width="1" height="13"/><rect x="427" y="17" width="13" height="1"/></g>
<polygon points="427.8,8.4 429.5,6 431.2,8.4" fill="#555"/>
<polygon points="439,15.7 441.4,17.5 439,19.3" fill="#555"/>
<g shape-rendering="crispEdges"><rect x="435" y="6" width="1" height="10" fill="#1a5fb4"/></g><path d="M441.5,11.5 L437,11.5 M439.5,9 L437,11.5 L439.5,14" stroke="#e04010" stroke-width="1.2" fill="none"/>
<rect x="450" y="1" width="1" height="21" fill="#a0a0a0" shape-rendering="crispEdges"/>
<g><path d="M460.5,4.5 L468,4.5 L471.5,8 L471.5,17 L460.5,17 Z" fill="#fff" stroke="#8a8a8a" stroke-width="0.9"/><path d="M468,4.5 L468,8 L471.5,8" fill="#e0e0e0" stroke="#8a8a8a" stroke-width="0.8"/><path d="M463.5,8 L463.5,13 M463.5,9.5 L465.5,9.5 M463.5,12 L462,12" stroke="#707070" stroke-width="0.9" fill="none"/><path d="M468,10.5 h4 v3.6 h3.8 v4 h-3.8 v3.6 h-4 v-3.6 h-3.8 v-4 h3.8 z" fill="#25c425" stroke="#138a13" stroke-width="0.8"/></g>
<polygon points="481.8,11.3 487.2,11.3 484.5,14.2" fill="#000"/>
<defs><linearGradient id="gclk" x1="0" y1="0" x2="0" y2="1"><stop offset="0" stop-color="#3f8ff0"/><stop offset="1" stop-color="#0c3f9c"/></linearGradient></defs>
<g><circle cx="505.9" cy="11.6" r="7.7" fill="url(#gclk)"/><circle cx="505.9" cy="11.6" r="5.3" fill="#f2f6fc"/><circle cx="505.9" cy="11.6" r="5.3" fill="none" stroke="#9ab8e8" stroke-width="0.6"/><path d="M505.6,8 L505.6,11.9 L508.6,12.4" stroke="#404040" stroke-width="1.1" fill="none"/><path d="M505.9,7 v0.8 M505.9,15.4 v0.8 M501.3,11.6 h0.8 M509.7,11.6 h0.8" stroke="#8090a8" stroke-width="0.7"/></g>
<polygon points="520.8,11.3 526.2,11.3 523.5,14.2" fill="#000"/>
<g><rect x="537.5" y="5.5" width="15" height="13" fill="#fff" stroke="#3a7ad0" stroke-width="1"/><rect x="538" y="6" width="14" height="2.4" fill="#5a9ae8"/><path d="M539.5,12 L542,11 L544,12 L546.5,10.3 L548.5,11 L551,9.8" stroke="#a82008" stroke-width="1.2" fill="none"/><path d="M539.5,16.2 L542,15 L544,16.4 L546.5,14.5 L548.5,16 L551,14.6" stroke="#20a030" stroke-width="1.1" fill="none"/><rect x="538" y="13" width="14" height="0.7" fill="#a8c4ec"/></g>
<polygon points="559.8,11.3 565.2,11.3 562.5,14.2" fill="#000"/>
<rect x="571" y="1" width="1" height="21" fill="#a0a0a0" shape-rendering="crispEdges"/>
<rect x="575" y="2" width="3" height="1" fill="#a6a6a6" shape-rendering="crispEdges"/>
<rect x="575" y="4" width="3" height="1" fill="#a6a6a6" shape-rendering="crispEdges"/>
<rect x="575" y="6" width="3" height="1" fill="#a6a6a6" shape-rendering="crispEdges"/>
<rect x="575" y="8" width="3" height="1" fill="#a6a6a6" shape-rendering="crispEdges"/>
<rect x="575" y="10" width="3" height="1" fill="#a6a6a6" shape-rendering="crispEdges"/>
<rect x="575" y="12" width="3" height="1" fill="#a6a6a6" shape-rendering="crispEdges"/>
<rect x="575" y="14" width="3" height="1" fill="#a6a6a6" shape-rendering="crispEdges"/>
<rect x="575" y="16" width="3" height="1" fill="#a6a6a6" shape-rendering="crispEdges"/>
<rect x="575" y="18" width="3" height="1" fill="#a6a6a6" shape-rendering="crispEdges"/>
<rect x="575" y="20" width="3" height="1" fill="#a6a6a6" shape-rendering="crispEdges"/>
<g shape-rendering="crispEdges"><rect x="581" y="0" width="25" height="22" fill="url(#chk)"/><rect x="581" y="0" width="25" height="1" fill="#a0a0a0"/><rect x="581" y="0" width="1" height="22" fill="#a0a0a0"/><rect x="605" y="1" width="1" height="21" fill="#fff"/><rect x="582" y="21" width="24" height="1" fill="#fff"/></g>
<path d="M589,5 L589,16.5 L591.8,14 L594,19 L596,18 L593.8,13.2 L597.5,13.2 Z" fill="#404040"/>
<g shape-rendering="crispEdges" fill="#454545"><rect x="621" y="5" width="1" height="6"/><rect x="621" y="14" width="1" height="6"/><rect x="614" y="12" width="6" height="1"/><rect x="623" y="12" width="6" height="1"/><rect x="621" y="12" width="1" height="1"/></g>
<rect x="638" y="1" width="1" height="21" fill="#a0a0a0" shape-rendering="crispEdges"/>
<g shape-rendering="crispEdges" fill="#454545"><rect x="655" y="6" width="1" height="13"/><rect x="678" y="12" width="12" height="1"/></g>
<line x1="706" y1="19" x2="718" y2="7" stroke="#454545" stroke-width="1.1"/>
<g stroke="#454545" stroke-width="1" fill="none"><path d="M732,15.5 L744.5,6.5 M733.5,18.5 L746,9.5"/><path d="M735.5,11 L735.5,18 M738.5,9 L738.5,16 M741.5,7 L741.5,14 M744.5,5 L744.5,12" stroke-width="0.9"/></g>
<text x="742.6" y="21" font-size="6.5" font-weight="bold" fill="#303030">E</text>
<g stroke="#404040" stroke-width="1" stroke-dasharray="1 1" shape-rendering="crispEdges"><line x1="761" y1="5.5" x2="775" y2="5.5"/><line x1="761" y1="8.5" x2="775" y2="8.5"/><line x1="761" y1="12.5" x2="775" y2="12.5"/><line x1="761" y1="16.5" x2="769" y2="16.5"/></g>
<text x="770.7" y="21" font-size="6.5" font-weight="bold" fill="#303030">F</text>
<text x="791.6" y="17" font-size="12.4" fill="#505050" stroke="#505050" stroke-width="0.3" textLength="7.9" lengthAdjust="spacingAndGlyphs">A</text>
<rect x="818.5" y="6.5" width="11" height="12" fill="none" stroke="#505050" stroke-width="1" stroke-dasharray="1 1" shape-rendering="crispEdges"/><rect x="817.5" y="5.5" width="2" height="1.5" fill="#505050"/><text x="820.2" y="16.8" font-size="10.8" fill="#505050" font-weight="bold" textLength="7.6" lengthAdjust="spacingAndGlyphs">T</text>
<g fill="#484848"><polygon points="848.5,5.8 852.4,10 848.5,11.2 844.7,10"/><polygon points="855.5,19.2 851.7,14.6 855.5,13.6 859.4,14.6"/><path d="M847,13.4 L849.4,15.6 L853.6,10.2" stroke="#484848" stroke-width="1.2" fill="none"/></g>
<polygon points="865.8,11.3 871.2,11.3 868.5,14.2" fill="#000"/>
<rect x="877" y="0" width="1" height="25" fill="#a0a0a0" shape-rendering="crispEdges"/>
<rect x="881" y="2" width="3" height="1" fill="#a6a6a6" shape-rendering="crispEdges"/>
<rect x="881" y="4" width="3" height="1" fill="#a6a6a6" shape-rendering="crispEdges"/>
<rect x="881" y="6" width="3" height="1" fill="#a6a6a6" shape-rendering="crispEdges"/>
<rect x="881" y="8" width="3" height="1" fill="#a6a6a6" shape-rendering="crispEdges"/>
<rect x="881" y="10" width="3" height="1" fill="#a6a6a6" shape-rendering="crispEdges"/>
<rect x="881" y="12" width="3" height="1" fill="#a6a6a6" shape-rendering="crispEdges"/>
<rect x="881" y="14" width="3" height="1" fill="#a6a6a6" shape-rendering="crispEdges"/>
<rect x="881" y="16" width="3" height="1" fill="#a6a6a6" shape-rendering="crispEdges"/>
<rect x="881" y="18" width="3" height="1" fill="#a6a6a6" shape-rendering="crispEdges"/>
<rect x="881" y="20" width="3" height="1" fill="#a6a6a6" shape-rendering="crispEdges"/>
<g shape-rendering="crispEdges"><rect x="1027" y="0" width="25" height="22" fill="url(#chk)"/><rect x="1027" y="0" width="25" height="1" fill="#a0a0a0"/><rect x="1027" y="0" width="1" height="22" fill="#a0a0a0"/><rect x="1051" y="1" width="1" height="21" fill="#fff"/><rect x="1028" y="21" width="24" height="1" fill="#fff"/></g>
<text x="892.6" y="16" font-size="10" fill="#404040" textLength="12.4" lengthAdjust="spacingAndGlyphs">M1</text>
<text x="921" y="16" font-size="10" fill="#404040" textLength="12" lengthAdjust="spacingAndGlyphs">M5</text>
<text x="946.6" y="16" font-size="10" fill="#404040" textLength="17.4" lengthAdjust="spacingAndGlyphs">M15</text>
<text x="974.6" y="16" font-size="10" fill="#404040" textLength="17.4" lengthAdjust="spacingAndGlyphs">M30</text>
<text x="1005.7" y="16" font-size="10" fill="#404040" textLength="11.3" lengthAdjust="spacingAndGlyphs">H1</text>
<text x="1032.7" y="16" font-size="10" fill="#404040" textLength="12.2" lengthAdjust="spacingAndGlyphs">H4</text>
<text x="1061.7" y="16" font-size="10" fill="#404040" textLength="11.3" lengthAdjust="spacingAndGlyphs">D1</text>
<text x="1089.4" y="16" font-size="10" fill="#404040" textLength="13.9" lengthAdjust="spacingAndGlyphs">W1</text>
<text x="1116" y="16" font-size="10" fill="#404040" textLength="14.3" lengthAdjust="spacingAndGlyphs">MN</text>
<rect x="1138" y="0" width="1" height="25" fill="#a0a0a0" shape-rendering="crispEdges"/>
<g><line x1="1600.8" y1="17.5" x2="1605.5" y2="12.5" stroke="#2a58c8" stroke-width="2.4" stroke-linecap="round"/><circle cx="1608.3" cy="10" r="3.9" fill="#f4f8ff" stroke="#2a58c8" stroke-width="1.6"/></g>
<g stroke="#8a8a8a" stroke-width="0.9"><path d="M1637,10.5 a5.6,4.2 0 1 1 5.6,4.2 l-0.5,0 l1.5,3 l-4.2,-3.3 a5.6,4.2 0 0 1 -2.4,-3.9 z" fill="#e4e4e4"/><path d="M1627.6,13.5 a4.6,3.6 0 1 1 4.6,3.6 l-1,0 l-2.6,2.6 l0.6,-3 a4.6,3.6 0 0 1 -1.6,-3.2 z" fill="#f8f8f8"/></g>
</svg></body></html>
